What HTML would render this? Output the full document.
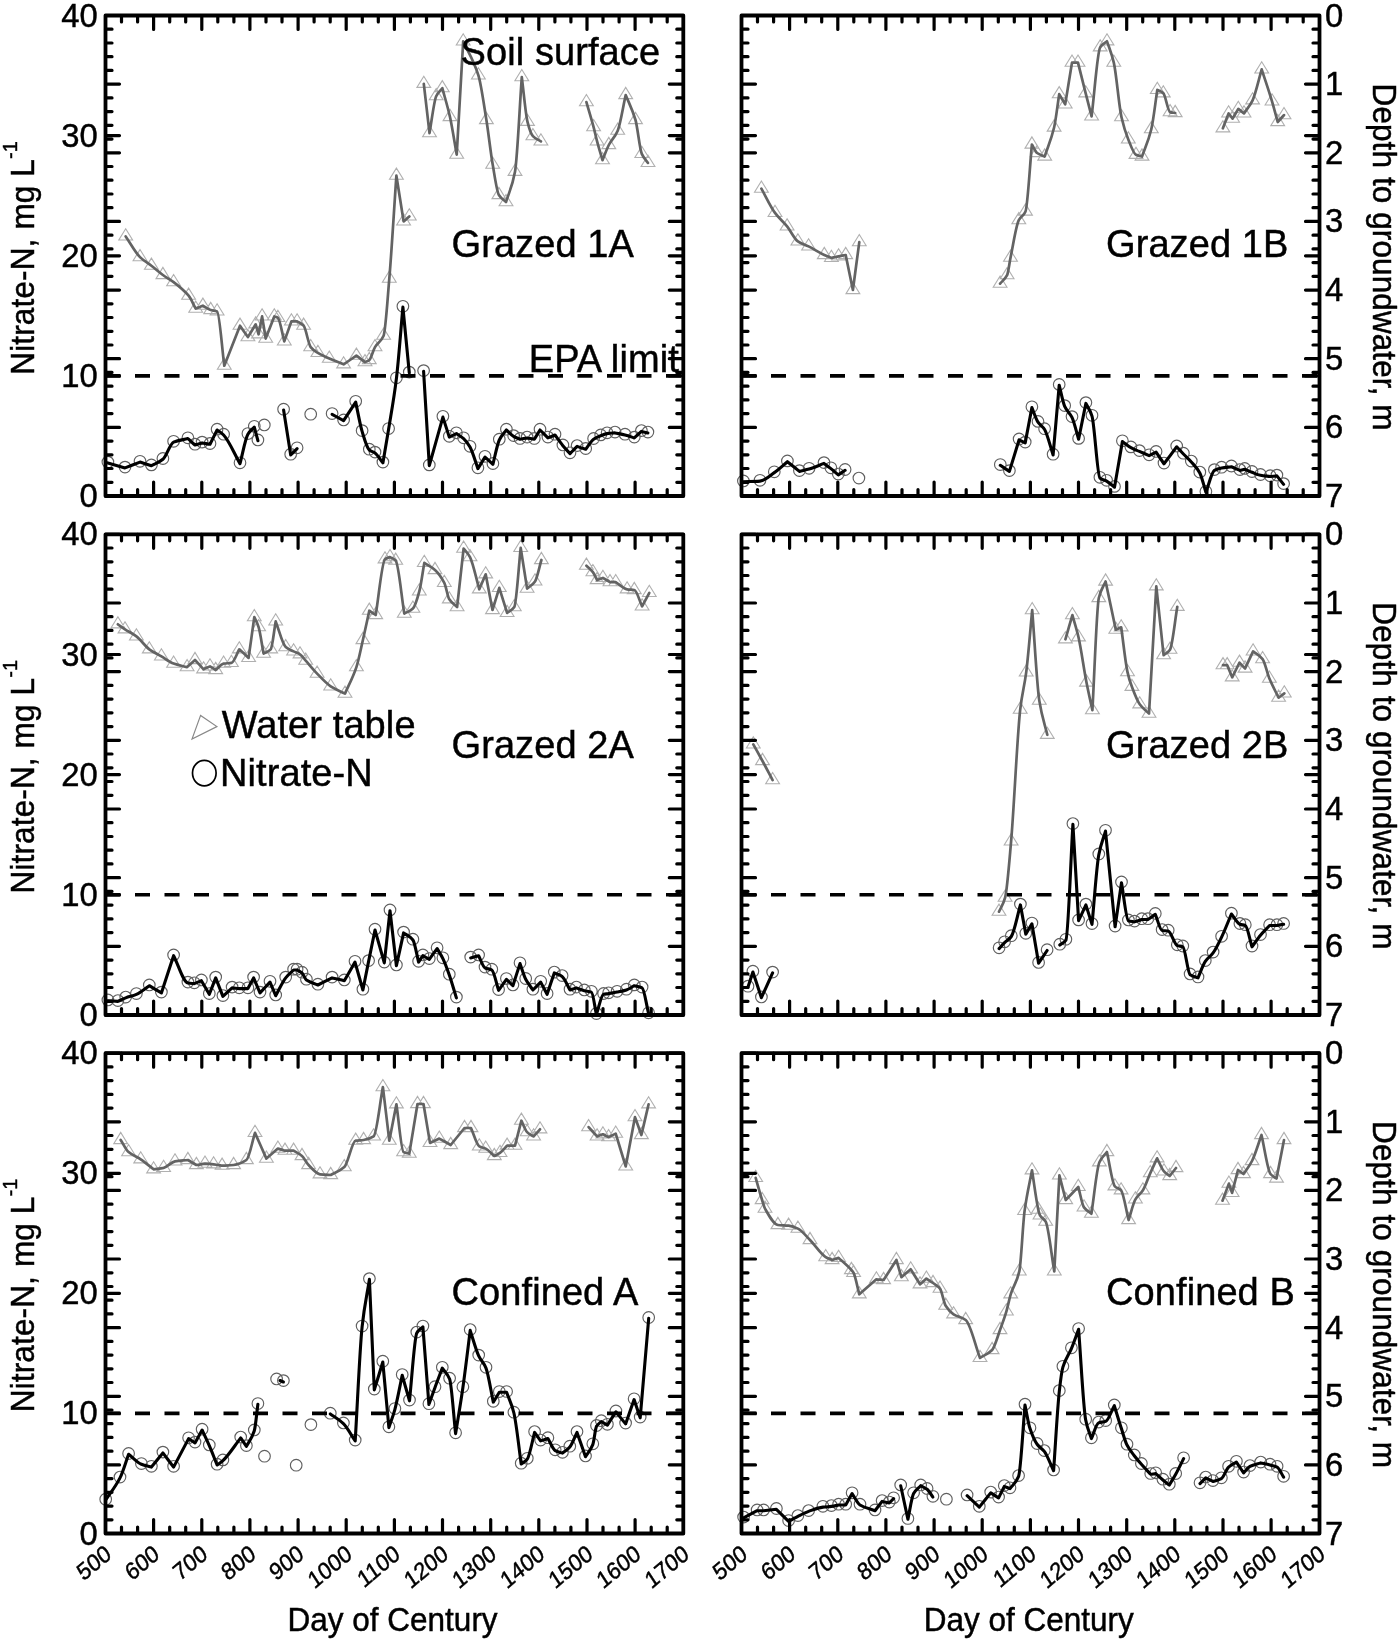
<!DOCTYPE html><html><head><meta charset="utf-8"><style>html,body{margin:0;padding:0;background:#fff;}svg{display:block;filter:blur(0.4px);} text{font-family:"Liberation Sans",sans-serif;fill:#000;stroke:#000;stroke-width:0.45px;}</style></head><body>
<svg width="1400" height="1641" viewBox="0 0 1400 1641">
<rect width="1400" height="1641" fill="#fff"/>
<path d="M125.7 228.8l-6.9 11.2h13.8zM140 249.5l-6.9 11.2h13.8zM151.4 258.1l-6.9 11.2h13.8zM162.9 267.4l-6.9 11.2h13.8zM173.6 274.5l-6.9 11.2h13.8zM188.6 288.1l-6.9 11.2h13.8zM195.7 301l-6.9 11.2h13.8zM202.9 298.1l-6.9 11.2h13.8zM210.7 302.4l-6.9 11.2h13.8zM217.1 303.8l-6.9 11.2h13.8zM224.3 358.1l-6.9 11.2h13.8zM240 318.1l-6.9 11.2h13.8zM247.9 329.5l-6.9 11.2h13.8zM255.7 316.7l-6.9 11.2h13.8zM258.6 326.7l-6.9 11.2h13.8zM262.1 308.8l-6.9 11.2h13.8zM265.7 331l-6.9 11.2h13.8zM274.3 308.8l-6.9 11.2h13.8zM277.9 310.3l-6.9 11.2h13.8zM284.3 333.8l-6.9 11.2h13.8zM291.4 313.8l-6.9 11.2h13.8zM297.1 313.8l-6.9 11.2h13.8zM303.6 318.1l-6.9 11.2h13.8zM310.7 339.5l-6.9 11.2h13.8zM317.9 345.3l-6.9 11.2h13.8zM329.3 351l-6.9 11.2h13.8zM343.6 356.7l-6.9 11.2h13.8zM356.4 348.1l-6.9 11.2h13.8zM365 354.5l-6.9 11.2h13.8zM369.3 352.4l-6.9 11.2h13.8zM375 339.5l-6.9 11.2h13.8zM383.6 328.1l-6.9 11.2h13.8zM389.3 271l-6.9 11.2h13.8zM396.4 168.1l-6.9 11.2h13.8zM403.6 213.8l-6.9 11.2h13.8zM409.3 208.8l-6.9 11.2h13.8z" fill="none" stroke="#b0b0b0" stroke-width="1.1"/>
<path d="M423.8 76.2l-6.9 11.2h13.8zM429.5 125.5l-6.9 11.2h13.8zM436.2 88.6l-6.9 11.2h13.8zM442.3 80.6l-6.9 11.2h13.8zM450 109.4l-6.9 11.2h13.8zM456.7 147l-6.9 11.2h13.8zM463.2 33.8l-6.9 11.2h13.8zM478.4 67.8l-6.9 11.2h13.8zM486.4 112.4l-6.9 11.2h13.8zM492.7 157l-6.9 11.2h13.8zM498.9 187.4l-6.9 11.2h13.8zM506 194.5l-6.9 11.2h13.8zM515 164.2l-6.9 11.2h13.8zM521.8 69.5l-6.9 11.2h13.8zM527.5 114.2l-6.9 11.2h13.8zM532.9 128.5l-6.9 11.2h13.8zM540.9 133.8l-6.9 11.2h13.8z" fill="none" stroke="#b0b0b0" stroke-width="1.1"/>
<path d="M586.4 94.5l-6.9 11.2h13.8zM593.6 119.5l-6.9 11.2h13.8zM597.1 133.8l-6.9 11.2h13.8zM602.5 152.6l-6.9 11.2h13.8zM608.8 137.4l-6.9 11.2h13.8zM617.7 123.1l-6.9 11.2h13.8zM625.7 87.4l-6.9 11.2h13.8zM635.5 112.4l-6.9 11.2h13.8zM641.8 146.3l-6.9 11.2h13.8zM648 155.3l-6.9 11.2h13.8z" fill="none" stroke="#b0b0b0" stroke-width="1.1"/>
<path d="M125.7 236.4C130.5 243.3 135.2 252.4 140 257.1C143.8 260.9 147.6 262.7 151.4 265.7C155.2 268.7 159.1 272.2 162.9 275C166.5 277.6 170 279.4 173.6 282.1C178.6 285.9 183.6 289.7 188.6 295.7C191 298.6 193.3 304.3 195.7 308.6C198.1 307.6 200.5 306.7 202.9 305.7C205.5 307.1 208.1 309.2 210.7 310C212.8 310.7 215 310.5 217.1 311.4C219.5 312.4 221.9 347.6 224.3 365.7C229.5 352.4 234.8 339 240 325.7C242.6 329.5 245.3 333.3 247.9 337.1C250.5 332.8 253.1 328.6 255.7 324.3C256.7 327.6 257.6 331 258.6 334.3C259.8 328.3 260.9 322.4 262.1 316.4C263.3 323.8 264.5 331.2 265.7 338.6C268.6 331.2 271.4 323.8 274.3 316.4C275.5 316.9 276.7 317 277.9 317.9C280 319.5 282.2 333.6 284.3 341.4C286.7 334.7 289 328.1 291.4 321.4C293.3 321.4 295.2 321.4 297.1 321.4C299.3 322.8 301.4 323.3 303.6 325.7C306 328.3 308.3 344.1 310.7 347.1C313.1 350.2 315.5 351.4 317.9 352.9C321.7 355.2 325.5 356.9 329.3 358.6C334.1 360.7 338.8 362.4 343.6 364.3C347.9 361.4 352.1 358.6 356.4 355.7C359.3 357.8 362.1 360 365 362.1C366.4 361.4 367.9 361.2 369.3 360C371.2 358.5 373.1 350.3 375 347.1C377.9 342.3 380.7 342.4 383.6 335.7C385.5 331.3 387.4 301.1 389.3 278.6C391.7 250.6 394 210 396.4 175.7C398.8 190.9 401.2 206.2 403.6 221.4C405.5 219.7 407.4 218.1 409.3 216.4" fill="none" stroke="#636363" stroke-width="2.7" stroke-linejoin="round" stroke-linecap="round"/>
<path d="M423.8 83.8C425.7 100.2 427.6 116.7 429.5 133.1C431.7 120.8 434 100.9 436.2 96.2C438.2 91.9 440.3 90.9 442.3 88.2C444.9 97.8 447.4 105.5 450 117C452.2 127 454.5 142.1 456.7 154.6C458.9 116.9 461 79.1 463.2 41.4C468.3 52.7 473.3 59.2 478.4 75.4C481.1 83.9 483.7 103.4 486.4 120C488.5 133.1 490.6 152.4 492.7 164.6C494.8 176.6 496.8 191.6 498.9 195C501.3 198.9 503.6 199.7 506 202.1C509 192 512 188.1 515 171.8C517.3 159.5 519.5 108.7 521.8 77.1C523.7 92 525.6 114.3 527.5 121.8C529.3 128.9 531.1 134.2 532.9 136.1C535.6 138.9 538.2 139.6 540.9 141.4" fill="none" stroke="#636363" stroke-width="2.7" stroke-linejoin="round" stroke-linecap="round"/>
<path d="M586.4 102.1C588.8 110.4 591.2 118.1 593.6 127.1C594.8 131.5 595.9 137 597.1 141.4C598.9 148.2 600.7 153.9 602.5 160.2C604.6 155.1 606.7 149.1 608.8 145C611.8 139.3 614.7 137.7 617.7 130.7C620.4 124.4 623 106.9 625.7 95C629 103.3 632.2 108.7 635.5 120C637.6 127.3 639.7 149.1 641.8 153.9C643.9 158.6 645.9 159.9 648 162.9" fill="none" stroke="#636363" stroke-width="2.7" stroke-linejoin="round" stroke-linecap="round"/>
<path d="M102.1 462.1a5.8 5.8 0 1 0 11.6 0a5.8 5.8 0 1 0 -11.6 0M119.2 467.1a5.8 5.8 0 1 0 11.6 0a5.8 5.8 0 1 0 -11.6 0M134.2 461.3a5.8 5.8 0 1 0 11.6 0a5.8 5.8 0 1 0 -11.6 0M145.6 464.9a5.8 5.8 0 1 0 11.6 0a5.8 5.8 0 1 0 -11.6 0M157.1 458.5a5.8 5.8 0 1 0 11.6 0a5.8 5.8 0 1 0 -11.6 0M167.8 441.3a5.8 5.8 0 1 0 11.6 0a5.8 5.8 0 1 0 -11.6 0M182.1 437.8a5.8 5.8 0 1 0 11.6 0a5.8 5.8 0 1 0 -11.6 0M189.2 444.2a5.8 5.8 0 1 0 11.6 0a5.8 5.8 0 1 0 -11.6 0M196.3 442.1a5.8 5.8 0 1 0 11.6 0a5.8 5.8 0 1 0 -11.6 0M204.2 443.5a5.8 5.8 0 1 0 11.6 0a5.8 5.8 0 1 0 -11.6 0M211.3 429.2a5.8 5.8 0 1 0 11.6 0a5.8 5.8 0 1 0 -11.6 0M217.8 434.2a5.8 5.8 0 1 0 11.6 0a5.8 5.8 0 1 0 -11.6 0M234.2 462.8a5.8 5.8 0 1 0 11.6 0a5.8 5.8 0 1 0 -11.6 0M242.1 433.5a5.8 5.8 0 1 0 11.6 0a5.8 5.8 0 1 0 -11.6 0M248.5 426.3a5.8 5.8 0 1 0 11.6 0a5.8 5.8 0 1 0 -11.6 0M252.1 439.9a5.8 5.8 0 1 0 11.6 0a5.8 5.8 0 1 0 -11.6 0" fill="none" stroke="#606060" stroke-width="1.15"/>
<path d="M258.5 424.9a5.8 5.8 0 1 0 11.6 0a5.8 5.8 0 1 0 -11.6 0" fill="none" stroke="#606060" stroke-width="1.15"/>
<path d="M277.8 409.2a5.8 5.8 0 1 0 11.6 0a5.8 5.8 0 1 0 -11.6 0M284.9 454.2a5.8 5.8 0 1 0 11.6 0a5.8 5.8 0 1 0 -11.6 0M291.3 447.8a5.8 5.8 0 1 0 11.6 0a5.8 5.8 0 1 0 -11.6 0" fill="none" stroke="#606060" stroke-width="1.15"/>
<path d="M304.9 414.2a5.8 5.8 0 1 0 11.6 0a5.8 5.8 0 1 0 -11.6 0" fill="none" stroke="#606060" stroke-width="1.15"/>
<path d="M326.3 413.5a5.8 5.8 0 1 0 11.6 0a5.8 5.8 0 1 0 -11.6 0M337.8 419.9a5.8 5.8 0 1 0 11.6 0a5.8 5.8 0 1 0 -11.6 0M349.9 401.3a5.8 5.8 0 1 0 11.6 0a5.8 5.8 0 1 0 -11.6 0M356.3 430.6a5.8 5.8 0 1 0 11.6 0a5.8 5.8 0 1 0 -11.6 0M363.5 449.2a5.8 5.8 0 1 0 11.6 0a5.8 5.8 0 1 0 -11.6 0M369.2 452.1a5.8 5.8 0 1 0 11.6 0a5.8 5.8 0 1 0 -11.6 0M377.1 462.1a5.8 5.8 0 1 0 11.6 0a5.8 5.8 0 1 0 -11.6 0M382.8 428.5a5.8 5.8 0 1 0 11.6 0a5.8 5.8 0 1 0 -11.6 0M390.6 377.8a5.8 5.8 0 1 0 11.6 0a5.8 5.8 0 1 0 -11.6 0M397.1 306.3a5.8 5.8 0 1 0 11.6 0a5.8 5.8 0 1 0 -11.6 0M403.5 372.1a5.8 5.8 0 1 0 11.6 0a5.8 5.8 0 1 0 -11.6 0" fill="none" stroke="#606060" stroke-width="1.15"/>
<path d="M417.8 370.6a5.8 5.8 0 1 0 11.6 0a5.8 5.8 0 1 0 -11.6 0M423.5 464.9a5.8 5.8 0 1 0 11.6 0a5.8 5.8 0 1 0 -11.6 0M437.1 416.3a5.8 5.8 0 1 0 11.6 0a5.8 5.8 0 1 0 -11.6 0M443.5 436.3a5.8 5.8 0 1 0 11.6 0a5.8 5.8 0 1 0 -11.6 0M450.6 432.8a5.8 5.8 0 1 0 11.6 0a5.8 5.8 0 1 0 -11.6 0M457.8 437.8a5.8 5.8 0 1 0 11.6 0a5.8 5.8 0 1 0 -11.6 0M464.2 446.3a5.8 5.8 0 1 0 11.6 0a5.8 5.8 0 1 0 -11.6 0M472.1 467.8a5.8 5.8 0 1 0 11.6 0a5.8 5.8 0 1 0 -11.6 0M479.2 456.3a5.8 5.8 0 1 0 11.6 0a5.8 5.8 0 1 0 -11.6 0M487.1 463.5a5.8 5.8 0 1 0 11.6 0a5.8 5.8 0 1 0 -11.6 0M493.5 439.2a5.8 5.8 0 1 0 11.6 0a5.8 5.8 0 1 0 -11.6 0M500.6 429.2a5.8 5.8 0 1 0 11.6 0a5.8 5.8 0 1 0 -11.6 0M507.8 435.6a5.8 5.8 0 1 0 11.6 0a5.8 5.8 0 1 0 -11.6 0M514.2 438.5a5.8 5.8 0 1 0 11.6 0a5.8 5.8 0 1 0 -11.6 0M521.3 437.1a5.8 5.8 0 1 0 11.6 0a5.8 5.8 0 1 0 -11.6 0M528.5 438.5a5.8 5.8 0 1 0 11.6 0a5.8 5.8 0 1 0 -11.6 0M534.2 429.2a5.8 5.8 0 1 0 11.6 0a5.8 5.8 0 1 0 -11.6 0M542.1 437.1a5.8 5.8 0 1 0 11.6 0a5.8 5.8 0 1 0 -11.6 0M549.2 434.2a5.8 5.8 0 1 0 11.6 0a5.8 5.8 0 1 0 -11.6 0M557.1 444.9a5.8 5.8 0 1 0 11.6 0a5.8 5.8 0 1 0 -11.6 0M564.2 452.8a5.8 5.8 0 1 0 11.6 0a5.8 5.8 0 1 0 -11.6 0M571.3 445.6a5.8 5.8 0 1 0 11.6 0a5.8 5.8 0 1 0 -11.6 0M579.9 448.5a5.8 5.8 0 1 0 11.6 0a5.8 5.8 0 1 0 -11.6 0M587.8 438.5a5.8 5.8 0 1 0 11.6 0a5.8 5.8 0 1 0 -11.6 0M594.9 434.9a5.8 5.8 0 1 0 11.6 0a5.8 5.8 0 1 0 -11.6 0M601.3 432.8a5.8 5.8 0 1 0 11.6 0a5.8 5.8 0 1 0 -11.6 0M609.2 432.1a5.8 5.8 0 1 0 11.6 0a5.8 5.8 0 1 0 -11.6 0M619.2 434.2a5.8 5.8 0 1 0 11.6 0a5.8 5.8 0 1 0 -11.6 0M628.5 437.1a5.8 5.8 0 1 0 11.6 0a5.8 5.8 0 1 0 -11.6 0M635.6 430.6a5.8 5.8 0 1 0 11.6 0a5.8 5.8 0 1 0 -11.6 0M642.1 432.1a5.8 5.8 0 1 0 11.6 0a5.8 5.8 0 1 0 -11.6 0" fill="none" stroke="#606060" stroke-width="1.15"/>
<path d="M107.9 462.9C113.6 464.6 119.3 466.2 125 467.9C130 466 135 464 140 462.1C143.8 463.3 147.6 464.5 151.4 465.7C155.2 463.6 159.1 462.5 162.9 459.3C166.5 456.4 170 443.6 173.6 442.1C178.4 440.1 183.1 439.8 187.9 438.6C190.3 440.7 192.6 442.9 195 445C197.4 444.3 199.7 443.6 202.1 442.9C204.7 443.4 207.4 443.8 210 444.3C212.4 439.5 214.7 434.8 217.1 430C219.3 431.7 221.4 432.7 223.6 435C229.1 440.8 234.5 454.1 240 463.6C242.6 453.8 245.3 438.8 247.9 434.3C250 430.6 252.2 429.5 254.3 427.1C255.5 431.6 256.7 436.2 257.9 440.7" fill="none" stroke="#000" stroke-width="3.1" stroke-linejoin="round" stroke-linecap="round"/>
<path d="M283.6 410C286 425 288.3 440 290.7 455C292.8 452.9 295 450.7 297.1 448.6" fill="none" stroke="#000" stroke-width="3.1" stroke-linejoin="round" stroke-linecap="round"/>
<path d="M332.1 414.3C335.9 416.4 339.8 418.6 343.6 420.7C347.6 414.5 351.7 408.3 355.7 402.1C357.8 411.9 360 424.4 362.1 431.4C364.5 439.3 366.9 448 369.3 450C371.2 451.6 373.1 451.5 375 452.9C377.6 454.8 380.3 459.6 382.9 462.9C384.8 451.7 386.7 441 388.6 429.3C391.2 413.2 393.8 399.8 396.4 378.6C398.6 360.9 400.7 330.9 402.9 307.1C405 329 407.2 351 409.3 372.9" fill="none" stroke="#000" stroke-width="3.1" stroke-linejoin="round" stroke-linecap="round"/>
<path d="M423.6 371.4C425.5 402.8 427.4 434.3 429.3 465.7C433.8 449.5 438.4 433.3 442.9 417.1C445 423.8 447.2 430.4 449.3 437.1C451.7 435.9 454 434.8 456.4 433.6C458.8 435.3 461.2 436.4 463.6 438.6C465.7 440.5 467.9 443.3 470 447.1C472.6 451.8 475.3 461.4 477.9 468.6C480.3 464.8 482.6 460.9 485 457.1C487.6 459.5 490.3 461.9 492.9 464.3C495 456.2 497.2 444.4 499.3 440C501.7 435.1 504 433.3 506.4 430C508.8 432.1 511.2 435 513.6 436.4C515.7 437.7 517.9 438.3 520 439.3C522.4 438.8 524.7 438.4 527.1 437.9C529.5 438.4 531.9 438.8 534.3 439.3C536.2 436.2 538.1 433.1 540 430C542.6 432.6 545.3 435.3 547.9 437.9C550.3 436.9 552.6 436 555 435C557.6 438.6 560.3 442.5 562.9 445.7C565.3 448.6 567.6 451 570 453.6C572.4 451.2 574.7 448.8 577.1 446.4C580 447.4 582.8 448.3 585.7 449.3C588.3 446 591 441.2 593.6 439.3C596 437.6 598.3 436.6 600.7 435.7C602.8 434.9 605 433.9 607.1 433.6C609.7 433.2 612.4 433.1 615 432.9C618.3 433.6 621.7 434.2 625 435C628.1 435.8 631.2 436.9 634.3 437.9C636.7 435.7 639 433.6 641.4 431.4C643.6 431.9 645.7 432.4 647.9 432.9" fill="none" stroke="#000" stroke-width="3.1" stroke-linejoin="round" stroke-linecap="round"/>
<path d="M761.4 181l-6.9 11.2h13.8zM775 205.3l-6.9 11.2h13.8zM787.1 218.8l-6.9 11.2h13.8zM797.9 233.8l-6.9 11.2h13.8zM808.6 238.8l-6.9 11.2h13.8zM824.3 247.4l-6.9 11.2h13.8zM831.4 250.3l-6.9 11.2h13.8zM838.6 248.8l-6.9 11.2h13.8zM845.7 247.4l-6.9 11.2h13.8zM852.9 282.4l-6.9 11.2h13.8zM859.3 234.5l-6.9 11.2h13.8z" fill="none" stroke="#b0b0b0" stroke-width="1.1"/>
<path d="M1000.1 276l-6.9 11.2h13.8zM1007.1 267.6l-6.9 11.2h13.8zM1010.5 250.1l-6.9 11.2h13.8zM1018.8 212.6l-6.9 11.2h13.8zM1025.5 203.9l-6.9 11.2h13.8zM1031.9 136.9l-6.9 11.2h13.8zM1037.1 145.4l-6.9 11.2h13.8zM1044.7 148.9l-6.9 11.2h13.8zM1054.1 119.9l-6.9 11.2h13.8zM1059.2 86.6l-6.9 11.2h13.8zM1065.2 96.8l-6.9 11.2h13.8zM1072 55l-6.9 11.2h13.8zM1078 55l-6.9 11.2h13.8zM1085.7 85.7l-6.9 11.2h13.8zM1091.6 108.8l-6.9 11.2h13.8zM1100.2 39.7l-6.9 11.2h13.8zM1107 33.7l-6.9 11.2h13.8zM1113.8 55l-6.9 11.2h13.8zM1121.5 109.6l-6.9 11.2h13.8zM1128.3 131.8l-6.9 11.2h13.8zM1136 147.2l-6.9 11.2h13.8zM1142 148.9l-6.9 11.2h13.8zM1151.3 121.6l-6.9 11.2h13.8zM1157.3 82.3l-6.9 11.2h13.8zM1163.3 85.7l-6.9 11.2h13.8zM1170.1 104.5l-6.9 11.2h13.8zM1175.2 105.4l-6.9 11.2h13.8z" fill="none" stroke="#b0b0b0" stroke-width="1.1"/>
<path d="M1222.9 120.7l-6.9 11.2h13.8zM1228.6 105.8l-6.9 11.2h13.8zM1232.6 111l-6.9 11.2h13.8zM1238.3 101.3l-6.9 11.2h13.8zM1244 105.8l-6.9 11.2h13.8zM1252.6 92.7l-6.9 11.2h13.8zM1261.7 61.8l-6.9 11.2h13.8zM1272 93.8l-6.9 11.2h13.8zM1277.7 114.4l-6.9 11.2h13.8zM1284 107.5l-6.9 11.2h13.8z" fill="none" stroke="#b0b0b0" stroke-width="1.1"/>
<path d="M761.4 188.6C765.9 196.7 770.5 206.7 775 212.9C779 218.4 783.1 221.4 787.1 226.4C790.7 230.9 794.3 238.9 797.9 241.4C801.5 243.9 805 244.6 808.6 246.4C813.8 249 819.1 252.6 824.3 255C826.7 256.1 829 256.9 831.4 257.9C833.8 257.4 836.2 256.9 838.6 256.4C841 255.9 843.3 255.5 845.7 255C848.1 266.7 850.5 278.3 852.9 290C855 274 857.2 258.1 859.3 242.1" fill="none" stroke="#636363" stroke-width="2.7" stroke-linejoin="round" stroke-linecap="round"/>
<path d="M1000.1 283.6C1002.4 280.8 1004.8 279.7 1007.1 275.2C1008.2 273 1009.4 263.2 1010.5 257.7C1013.3 244.4 1016 225.8 1018.8 220.2C1021 215.7 1023.3 216.7 1025.5 211.5C1027.6 206.6 1029.8 166.8 1031.9 144.5C1033.6 147.3 1035.4 151.8 1037.1 153C1039.6 154.8 1042.2 155.3 1044.7 156.5C1047.8 146.8 1051 140.6 1054.1 127.5C1055.8 120.4 1057.5 105.3 1059.2 94.2C1061.2 97.6 1063.2 101 1065.2 104.4C1067.5 90.5 1069.7 76.5 1072 62.6C1074 62.6 1076 62.6 1078 62.6C1080.6 72.8 1083.1 83.2 1085.7 93.3C1087.7 101.1 1089.6 108.7 1091.6 116.4C1094.5 93.4 1097.3 51.9 1100.2 47.3C1102.5 43.7 1104.7 43.3 1107 41.3C1109.3 48.4 1111.5 52.8 1113.8 62.6C1116.4 73.8 1118.9 105.7 1121.5 117.2C1123.8 127.3 1126 133.8 1128.3 139.4C1130.9 145.8 1133.4 153.5 1136 154.8C1138 155.8 1140 155.9 1142 156.5C1145.1 147.4 1148.2 141.8 1151.3 129.2C1153.3 121.1 1155.3 103 1157.3 89.9C1159.3 91 1161.3 91.4 1163.3 93.3C1165.6 95.4 1167.8 111.3 1170.1 112.1C1171.8 112.7 1173.5 112.7 1175.2 113" fill="none" stroke="#636363" stroke-width="2.7" stroke-linejoin="round" stroke-linecap="round"/>
<path d="M1222.9 128.3C1224.8 123.3 1226.7 118.4 1228.6 113.4C1229.9 115.1 1231.3 116.9 1232.6 118.6C1234.5 115.4 1236.4 112.1 1238.3 108.9C1240.2 110.4 1242.1 111.9 1244 113.4C1246.9 109 1249.7 106.3 1252.6 100.3C1255.6 93.9 1258.7 79.7 1261.7 69.4C1265.1 80.1 1268.6 89.9 1272 101.4C1273.9 107.7 1275.8 115.1 1277.7 122C1279.8 119.7 1281.9 117.4 1284 115.1" fill="none" stroke="#636363" stroke-width="2.7" stroke-linejoin="round" stroke-linecap="round"/>
<path d="M737.6 480.9a5.8 5.8 0 1 0 11.6 0a5.8 5.8 0 1 0 -11.6 0M754.2 480.3a5.8 5.8 0 1 0 11.6 0a5.8 5.8 0 1 0 -11.6 0M768.5 471.8a5.8 5.8 0 1 0 11.6 0a5.8 5.8 0 1 0 -11.6 0M781.6 460.9a5.8 5.8 0 1 0 11.6 0a5.8 5.8 0 1 0 -11.6 0M793.6 470.6a5.8 5.8 0 1 0 11.6 0a5.8 5.8 0 1 0 -11.6 0M803.3 468.3a5.8 5.8 0 1 0 11.6 0a5.8 5.8 0 1 0 -11.6 0M818.2 462.6a5.8 5.8 0 1 0 11.6 0a5.8 5.8 0 1 0 -11.6 0M825.1 467.8a5.8 5.8 0 1 0 11.6 0a5.8 5.8 0 1 0 -11.6 0M832.5 474.1a5.8 5.8 0 1 0 11.6 0a5.8 5.8 0 1 0 -11.6 0M839.3 469.5a5.8 5.8 0 1 0 11.6 0a5.8 5.8 0 1 0 -11.6 0" fill="none" stroke="#606060" stroke-width="1.15"/>
<path d="M853.1 478.1a5.8 5.8 0 1 0 11.6 0a5.8 5.8 0 1 0 -11.6 0" fill="none" stroke="#606060" stroke-width="1.15"/>
<path d="M994.5 464.5a5.8 5.8 0 1 0 11.6 0a5.8 5.8 0 1 0 -11.6 0M1003.6 470.6a5.8 5.8 0 1 0 11.6 0a5.8 5.8 0 1 0 -11.6 0M1013.3 439a5.8 5.8 0 1 0 11.6 0a5.8 5.8 0 1 0 -11.6 0M1019.4 442.1a5.8 5.8 0 1 0 11.6 0a5.8 5.8 0 1 0 -11.6 0M1026.1 406.8a5.8 5.8 0 1 0 11.6 0a5.8 5.8 0 1 0 -11.6 0M1032.2 421.4a5.8 5.8 0 1 0 11.6 0a5.8 5.8 0 1 0 -11.6 0M1038.8 428.7a5.8 5.8 0 1 0 11.6 0a5.8 5.8 0 1 0 -11.6 0M1047.3 454.2a5.8 5.8 0 1 0 11.6 0a5.8 5.8 0 1 0 -11.6 0M1053.4 384.4a5.8 5.8 0 1 0 11.6 0a5.8 5.8 0 1 0 -11.6 0M1058.9 405.6a5.8 5.8 0 1 0 11.6 0a5.8 5.8 0 1 0 -11.6 0M1066.2 416.6a5.8 5.8 0 1 0 11.6 0a5.8 5.8 0 1 0 -11.6 0M1072.8 438.4a5.8 5.8 0 1 0 11.6 0a5.8 5.8 0 1 0 -11.6 0M1080.1 402.6a5.8 5.8 0 1 0 11.6 0a5.8 5.8 0 1 0 -11.6 0M1086.2 415.3a5.8 5.8 0 1 0 11.6 0a5.8 5.8 0 1 0 -11.6 0M1094.1 477.3a5.8 5.8 0 1 0 11.6 0a5.8 5.8 0 1 0 -11.6 0M1100.8 480.3a5.8 5.8 0 1 0 11.6 0a5.8 5.8 0 1 0 -11.6 0M1108.7 486.4a5.8 5.8 0 1 0 11.6 0a5.8 5.8 0 1 0 -11.6 0M1116.6 440.8a5.8 5.8 0 1 0 11.6 0a5.8 5.8 0 1 0 -11.6 0M1125.1 446.9a5.8 5.8 0 1 0 11.6 0a5.8 5.8 0 1 0 -11.6 0M1133.6 450.6a5.8 5.8 0 1 0 11.6 0a5.8 5.8 0 1 0 -11.6 0M1143.3 454.8a5.8 5.8 0 1 0 11.6 0a5.8 5.8 0 1 0 -11.6 0M1150.3 451.4a5.8 5.8 0 1 0 11.6 0a5.8 5.8 0 1 0 -11.6 0M1158.2 463a5.8 5.8 0 1 0 11.6 0a5.8 5.8 0 1 0 -11.6 0M1170.9 446a5.8 5.8 0 1 0 11.6 0a5.8 5.8 0 1 0 -11.6 0M1177.6 453.2a5.8 5.8 0 1 0 11.6 0a5.8 5.8 0 1 0 -11.6 0M1185.5 461.1a5.8 5.8 0 1 0 11.6 0a5.8 5.8 0 1 0 -11.6 0M1194 472.1a5.8 5.8 0 1 0 11.6 0a5.8 5.8 0 1 0 -11.6 0M1200.1 491.5a5.8 5.8 0 1 0 11.6 0a5.8 5.8 0 1 0 -11.6 0M1208.6 469.6a5.8 5.8 0 1 0 11.6 0a5.8 5.8 0 1 0 -11.6 0M1215.8 467.2a5.8 5.8 0 1 0 11.6 0a5.8 5.8 0 1 0 -11.6 0M1225.6 466a5.8 5.8 0 1 0 11.6 0a5.8 5.8 0 1 0 -11.6 0M1234.1 469.6a5.8 5.8 0 1 0 11.6 0a5.8 5.8 0 1 0 -11.6 0M1238.9 468.4a5.8 5.8 0 1 0 11.6 0a5.8 5.8 0 1 0 -11.6 0M1246.2 471.5a5.8 5.8 0 1 0 11.6 0a5.8 5.8 0 1 0 -11.6 0M1254.7 474.5a5.8 5.8 0 1 0 11.6 0a5.8 5.8 0 1 0 -11.6 0M1264.4 475.7a5.8 5.8 0 1 0 11.6 0a5.8 5.8 0 1 0 -11.6 0M1271.1 475.1a5.8 5.8 0 1 0 11.6 0a5.8 5.8 0 1 0 -11.6 0M1277.8 483.6a5.8 5.8 0 1 0 11.6 0a5.8 5.8 0 1 0 -11.6 0" fill="none" stroke="#606060" stroke-width="1.15"/>
<path d="M743.4 481.7C748.9 481.5 754.5 481.5 760 481.1C764.8 480.8 769.5 475.9 774.3 472.6C778.7 469.6 783 465.3 787.4 461.7C791.4 464.9 795.4 468.2 799.4 471.4C802.6 470.6 805.9 470 809.1 469.1C814.1 467.6 819 465.3 824 463.4C826.3 465.1 828.6 466.8 830.9 468.6C833.4 470.6 835.8 472.8 838.3 474.9C840.6 473.4 842.8 471.8 845.1 470.3" fill="none" stroke="#000" stroke-width="3.1" stroke-linejoin="round" stroke-linecap="round"/>
<path d="M1000.3 465.3C1003.3 467.3 1006.4 469.4 1009.4 471.4C1012.6 460.9 1015.9 450.3 1019.1 439.8C1021.1 440.8 1023.2 441.9 1025.2 442.9C1027.4 431.1 1029.7 419.4 1031.9 407.6C1033.9 412.5 1036 419.1 1038 422.2C1040.2 425.5 1042.4 425.9 1044.6 429.5C1047.4 434.1 1050.3 446.5 1053.1 455C1055.1 431.7 1057.2 408.5 1059.2 385.2C1061 392.3 1062.9 402.4 1064.7 406.4C1067.1 411.7 1069.6 412.4 1072 417.4C1074.2 422 1076.4 431.9 1078.6 439.2C1081 427.3 1083.5 415.3 1085.9 403.4C1087.9 407.6 1090 409.4 1092 416.1C1094.6 424.8 1097.3 475.9 1099.9 478.1C1102.1 480 1104.4 479.8 1106.6 481.1C1109.2 482.6 1111.9 485.2 1114.5 487.2C1117.1 472 1119.8 456.8 1122.4 441.6C1125.2 443.6 1128.1 446.2 1130.9 447.7C1133.7 449.2 1136.6 450.2 1139.4 451.4C1142.6 452.8 1145.9 454.2 1149.1 455.6C1151.4 454.5 1153.8 453.3 1156.1 452.2C1158.7 456.1 1161.4 459.9 1164 463.8C1168.2 458.1 1172.5 452.5 1176.7 446.8C1178.9 449.2 1181.2 451.7 1183.4 454C1186 456.7 1188.7 458.9 1191.3 461.9C1194.1 465.1 1197 467.7 1199.8 472.9C1201.8 476.6 1203.9 485.8 1205.9 492.3C1208.7 485 1211.6 472.1 1214.4 470.4C1216.8 469 1219.2 468.4 1221.6 468C1224.9 467.4 1228.1 467.2 1231.4 466.8C1234.2 468 1237.1 469.2 1239.9 470.4C1241.5 470 1243.1 469.6 1244.7 469.2C1247.1 470.2 1249.6 471.4 1252 472.3C1254.8 473.4 1257.7 474.8 1260.5 475.3C1263.7 475.9 1267 476.1 1270.2 476.5C1272.4 476.3 1274.7 476.1 1276.9 475.9C1279.1 478.7 1281.4 481.6 1283.6 484.4" fill="none" stroke="#000" stroke-width="3.1" stroke-linejoin="round" stroke-linecap="round"/>
<path d="M117.9 616.7l-6.9 11.2h13.8zM125 621.7l-6.9 11.2h13.8zM136.4 628.8l-6.9 11.2h13.8zM149.3 641.7l-6.9 11.2h13.8zM161.4 648.8l-6.9 11.2h13.8zM173.6 656l-6.9 11.2h13.8zM187.1 659.5l-6.9 11.2h13.8zM195 652.4l-6.9 11.2h13.8zM203.6 661.7l-6.9 11.2h13.8zM210 658.8l-6.9 11.2h13.8zM215.7 662.4l-6.9 11.2h13.8zM223.6 656l-6.9 11.2h13.8zM231.4 655.3l-6.9 11.2h13.8zM239.3 641.7l-6.9 11.2h13.8zM248.6 650.3l-6.9 11.2h13.8zM254.3 609.5l-6.9 11.2h13.8zM258.6 619.5l-6.9 11.2h13.8zM263.6 646l-6.9 11.2h13.8zM270.7 641.7l-6.9 11.2h13.8zM275.7 613.8l-6.9 11.2h13.8zM285.7 639.5l-6.9 11.2h13.8zM293.6 643.8l-6.9 11.2h13.8zM300 646.7l-6.9 11.2h13.8zM305.7 653.1l-6.9 11.2h13.8zM317.1 666l-6.9 11.2h13.8zM330.7 678.8l-6.9 11.2h13.8zM345 686l-6.9 11.2h13.8zM356.4 659.5l-6.9 11.2h13.8zM362.9 632.4l-6.9 11.2h13.8zM369.3 603.1l-6.9 11.2h13.8zM375.7 607.4l-6.9 11.2h13.8zM385 551.7l-6.9 11.2h13.8zM390 549.5l-6.9 11.2h13.8zM395.7 553.1l-6.9 11.2h13.8zM404.3 606l-6.9 11.2h13.8zM412.9 601l-6.9 11.2h13.8zM419.3 583.8l-6.9 11.2h13.8zM424.3 555.3l-6.9 11.2h13.8zM435 562.4l-6.9 11.2h13.8zM444.3 575.3l-6.9 11.2h13.8zM449.3 591.7l-6.9 11.2h13.8zM457.1 599.5l-6.9 11.2h13.8zM463.6 541l-6.9 11.2h13.8zM470 549.5l-6.9 11.2h13.8zM479.3 581.7l-6.9 11.2h13.8zM485.7 566.7l-6.9 11.2h13.8zM492.5 602.4l-6.9 11.2h13.8zM499.3 580.3l-6.9 11.2h13.8zM507.1 605.3l-6.9 11.2h13.8zM514.3 599.5l-6.9 11.2h13.8zM520.7 540.3l-6.9 11.2h13.8zM527.1 581l-6.9 11.2h13.8zM535 573.8l-6.9 11.2h13.8zM541.4 552.4l-6.9 11.2h13.8z" fill="none" stroke="#b0b0b0" stroke-width="1.1"/>
<path d="M586.4 558.1l-6.9 11.2h13.8zM592.9 564.5l-6.9 11.2h13.8zM597.1 572.4l-6.9 11.2h13.8zM602.9 570.3l-6.9 11.2h13.8zM610 574.5l-6.9 11.2h13.8zM615.7 574.5l-6.9 11.2h13.8zM627.1 581.7l-6.9 11.2h13.8zM634.3 582.4l-6.9 11.2h13.8zM642.1 598.8l-6.9 11.2h13.8zM649.3 585.3l-6.9 11.2h13.8z" fill="none" stroke="#b0b0b0" stroke-width="1.1"/>
<path d="M117.9 624.3C120.3 626 122.6 627.7 125 629.3C128.8 631.8 132.6 633.5 136.4 636.4C140.7 639.7 145 646.1 149.3 649.3C153.3 652.3 157.4 654 161.4 656.4C165.5 658.8 169.5 662.1 173.6 663.6C178.1 665.2 182.6 665.9 187.1 667.1C189.7 664.7 192.4 662.4 195 660C197.9 663.1 200.7 666.2 203.6 669.3C205.7 668.3 207.9 667.4 210 666.4C211.9 667.6 213.8 668.8 215.7 670C218.3 667.9 221 664 223.6 663.6C226.2 663.2 228.8 663.3 231.4 662.9C234 662.5 236.7 653.8 239.3 649.3C242.4 652.2 245.5 655 248.6 657.9C250.5 644.3 252.4 630.7 254.3 617.1C255.7 620.4 257.2 622.5 258.6 627.1C260.3 632.5 261.9 644.8 263.6 653.6C266 652.2 268.3 651.9 270.7 649.3C272.4 647.5 274 630.7 275.7 621.4C279 630 282.4 644.1 285.7 647.1C288.3 649.5 291 650.1 293.6 651.4C295.7 652.5 297.9 652.9 300 654.3C301.9 655.5 303.8 658.6 305.7 660.7C309.5 665 313.3 669.7 317.1 673.6C321.6 678.3 326.2 683.4 330.7 686.4C335.5 689.5 340.2 691.2 345 693.6C348.8 684.8 352.6 678.4 356.4 667.1C358.6 660.6 360.7 649.5 362.9 640C365 630.7 367.2 620.5 369.3 610.7C371.4 612.1 373.6 613.6 375.7 615C378.8 596.4 381.9 561.8 385 559.3C386.7 557.9 388.3 557.8 390 557.1C391.9 558.3 393.8 558.5 395.7 560.7C398.6 564 401.4 596 404.3 613.6C407.2 611.9 410 611.3 412.9 608.6C415 606.6 417.2 599.2 419.3 591.4C421 585.3 422.6 572.4 424.3 562.9C427.9 565.3 431.4 566.8 435 570C438.1 572.8 441.2 576.9 444.3 582.9C446 586.1 447.6 596.7 449.3 599.3C451.9 603.3 454.5 604.5 457.1 607.1C459.3 587.6 461.4 568.1 463.6 548.6C465.7 551.4 467.9 553 470 557.1C473.1 563.1 476.2 578.6 479.3 589.3C481.4 584.3 483.6 579.3 485.7 574.3C488 586.2 490.2 598.1 492.5 610C494.8 602.6 497 595.3 499.3 587.9C501.9 596.2 504.5 604.6 507.1 612.9C509.5 611 511.9 610.7 514.3 607.1C516.4 603.9 518.6 567.6 520.7 547.9C522.8 561.5 525 575 527.1 588.6C529.7 586.2 532.4 585.2 535 581.4C537.1 578.3 539.3 567.1 541.4 560" fill="none" stroke="#636363" stroke-width="2.7" stroke-linejoin="round" stroke-linecap="round"/>
<path d="M586.4 565.7C588.6 567.8 590.7 569.3 592.9 572.1C594.3 573.9 595.7 577.4 597.1 580C599 579.3 601 578.6 602.9 577.9C605.3 579.3 607.6 580.7 610 582.1C611.9 582.1 613.8 582.1 615.7 582.1C619.5 584.5 623.3 588.7 627.1 589.3C629.5 589.7 631.9 589.6 634.3 590C636.9 590.5 639.5 600.9 642.1 606.4C644.5 601.9 646.9 597.4 649.3 592.9" fill="none" stroke="#636363" stroke-width="2.7" stroke-linejoin="round" stroke-linecap="round"/>
<path d="M102.1 999.9a5.8 5.8 0 1 0 11.6 0a5.8 5.8 0 1 0 -11.6 0M112.1 1000.6a5.8 5.8 0 1 0 11.6 0a5.8 5.8 0 1 0 -11.6 0M119.9 997.1a5.8 5.8 0 1 0 11.6 0a5.8 5.8 0 1 0 -11.6 0M130.6 993.5a5.8 5.8 0 1 0 11.6 0a5.8 5.8 0 1 0 -11.6 0M143.5 984.9a5.8 5.8 0 1 0 11.6 0a5.8 5.8 0 1 0 -11.6 0M155.6 992.1a5.8 5.8 0 1 0 11.6 0a5.8 5.8 0 1 0 -11.6 0M167.8 954.9a5.8 5.8 0 1 0 11.6 0a5.8 5.8 0 1 0 -11.6 0M182.1 982.1a5.8 5.8 0 1 0 11.6 0a5.8 5.8 0 1 0 -11.6 0M188.5 982.8a5.8 5.8 0 1 0 11.6 0a5.8 5.8 0 1 0 -11.6 0M195.6 979.9a5.8 5.8 0 1 0 11.6 0a5.8 5.8 0 1 0 -11.6 0M203.5 993.5a5.8 5.8 0 1 0 11.6 0a5.8 5.8 0 1 0 -11.6 0M209.9 977.1a5.8 5.8 0 1 0 11.6 0a5.8 5.8 0 1 0 -11.6 0M217.1 995.6a5.8 5.8 0 1 0 11.6 0a5.8 5.8 0 1 0 -11.6 0M226.3 987.1a5.8 5.8 0 1 0 11.6 0a5.8 5.8 0 1 0 -11.6 0M233.5 987.8a5.8 5.8 0 1 0 11.6 0a5.8 5.8 0 1 0 -11.6 0M242.1 987.8a5.8 5.8 0 1 0 11.6 0a5.8 5.8 0 1 0 -11.6 0M247.8 977.1a5.8 5.8 0 1 0 11.6 0a5.8 5.8 0 1 0 -11.6 0M254.2 992.1a5.8 5.8 0 1 0 11.6 0a5.8 5.8 0 1 0 -11.6 0M264.2 981.3a5.8 5.8 0 1 0 11.6 0a5.8 5.8 0 1 0 -11.6 0M269.9 994.9a5.8 5.8 0 1 0 11.6 0a5.8 5.8 0 1 0 -11.6 0M279.9 977.1a5.8 5.8 0 1 0 11.6 0a5.8 5.8 0 1 0 -11.6 0M287.8 969.2a5.8 5.8 0 1 0 11.6 0a5.8 5.8 0 1 0 -11.6 0M291.3 969.2a5.8 5.8 0 1 0 11.6 0a5.8 5.8 0 1 0 -11.6 0M296.2 972.2a5.8 5.8 0 1 0 11.6 0a5.8 5.8 0 1 0 -11.6 0M300.6 979.2a5.8 5.8 0 1 0 11.6 0a5.8 5.8 0 1 0 -11.6 0M312.1 984.2a5.8 5.8 0 1 0 11.6 0a5.8 5.8 0 1 0 -11.6 0M326.3 977.1a5.8 5.8 0 1 0 11.6 0a5.8 5.8 0 1 0 -11.6 0M338.5 979.9a5.8 5.8 0 1 0 11.6 0a5.8 5.8 0 1 0 -11.6 0M349.2 961.3a5.8 5.8 0 1 0 11.6 0a5.8 5.8 0 1 0 -11.6 0M357.1 989.2a5.8 5.8 0 1 0 11.6 0a5.8 5.8 0 1 0 -11.6 0M362.8 960.6a5.8 5.8 0 1 0 11.6 0a5.8 5.8 0 1 0 -11.6 0M369.2 929.2a5.8 5.8 0 1 0 11.6 0a5.8 5.8 0 1 0 -11.6 0M378.5 962.1a5.8 5.8 0 1 0 11.6 0a5.8 5.8 0 1 0 -11.6 0M384.2 909.9a5.8 5.8 0 1 0 11.6 0a5.8 5.8 0 1 0 -11.6 0M390.6 964.9a5.8 5.8 0 1 0 11.6 0a5.8 5.8 0 1 0 -11.6 0M397.8 932.1a5.8 5.8 0 1 0 11.6 0a5.8 5.8 0 1 0 -11.6 0M407.1 939.2a5.8 5.8 0 1 0 11.6 0a5.8 5.8 0 1 0 -11.6 0M412.8 961.3a5.8 5.8 0 1 0 11.6 0a5.8 5.8 0 1 0 -11.6 0M417.1 954.9a5.8 5.8 0 1 0 11.6 0a5.8 5.8 0 1 0 -11.6 0M423.5 958.5a5.8 5.8 0 1 0 11.6 0a5.8 5.8 0 1 0 -11.6 0M431.3 947.8a5.8 5.8 0 1 0 11.6 0a5.8 5.8 0 1 0 -11.6 0M437.1 957.8a5.8 5.8 0 1 0 11.6 0a5.8 5.8 0 1 0 -11.6 0M443.5 974.2a5.8 5.8 0 1 0 11.6 0a5.8 5.8 0 1 0 -11.6 0M450.6 997.1a5.8 5.8 0 1 0 11.6 0a5.8 5.8 0 1 0 -11.6 0" fill="none" stroke="#606060" stroke-width="1.15"/>
<path d="M464.9 957.1a5.8 5.8 0 1 0 11.6 0a5.8 5.8 0 1 0 -11.6 0M472.8 954.9a5.8 5.8 0 1 0 11.6 0a5.8 5.8 0 1 0 -11.6 0M479.2 967.1a5.8 5.8 0 1 0 11.6 0a5.8 5.8 0 1 0 -11.6 0M486 969.2a5.8 5.8 0 1 0 11.6 0a5.8 5.8 0 1 0 -11.6 0M492.8 989.5a5.8 5.8 0 1 0 11.6 0a5.8 5.8 0 1 0 -11.6 0M500.6 978.5a5.8 5.8 0 1 0 11.6 0a5.8 5.8 0 1 0 -11.6 0M507.1 984.9a5.8 5.8 0 1 0 11.6 0a5.8 5.8 0 1 0 -11.6 0M514.2 962.8a5.8 5.8 0 1 0 11.6 0a5.8 5.8 0 1 0 -11.6 0M519.9 978.5a5.8 5.8 0 1 0 11.6 0a5.8 5.8 0 1 0 -11.6 0M527.1 989.2a5.8 5.8 0 1 0 11.6 0a5.8 5.8 0 1 0 -11.6 0M534.9 981.3a5.8 5.8 0 1 0 11.6 0a5.8 5.8 0 1 0 -11.6 0M541.3 993.5a5.8 5.8 0 1 0 11.6 0a5.8 5.8 0 1 0 -11.6 0M548.5 972.1a5.8 5.8 0 1 0 11.6 0a5.8 5.8 0 1 0 -11.6 0M556.3 975.6a5.8 5.8 0 1 0 11.6 0a5.8 5.8 0 1 0 -11.6 0M564.2 989.2a5.8 5.8 0 1 0 11.6 0a5.8 5.8 0 1 0 -11.6 0M570.6 987.1a5.8 5.8 0 1 0 11.6 0a5.8 5.8 0 1 0 -11.6 0M578.5 989.9a5.8 5.8 0 1 0 11.6 0a5.8 5.8 0 1 0 -11.6 0M585.6 991.3a5.8 5.8 0 1 0 11.6 0a5.8 5.8 0 1 0 -11.6 0M590.6 1013.5a5.8 5.8 0 1 0 11.6 0a5.8 5.8 0 1 0 -11.6 0M597.8 993.5a5.8 5.8 0 1 0 11.6 0a5.8 5.8 0 1 0 -11.6 0M602.8 992.8a5.8 5.8 0 1 0 11.6 0a5.8 5.8 0 1 0 -11.6 0M611.3 991.3a5.8 5.8 0 1 0 11.6 0a5.8 5.8 0 1 0 -11.6 0M620.6 989.2a5.8 5.8 0 1 0 11.6 0a5.8 5.8 0 1 0 -11.6 0M628.5 984.9a5.8 5.8 0 1 0 11.6 0a5.8 5.8 0 1 0 -11.6 0M636.3 987.1a5.8 5.8 0 1 0 11.6 0a5.8 5.8 0 1 0 -11.6 0M642.8 1012.8a5.8 5.8 0 1 0 11.6 0a5.8 5.8 0 1 0 -11.6 0" fill="none" stroke="#606060" stroke-width="1.15"/>
<path d="M107.9 1000.7C111.2 1000.9 114.6 1001.2 117.9 1001.4C120.5 1000.2 123.1 998.9 125.7 997.9C129.3 996.5 132.8 995.9 136.4 994.3C140.7 992.4 145 988.6 149.3 985.7C153.3 988.1 157.4 990.5 161.4 992.9C165.5 980.5 169.5 968.1 173.6 955.7C178.4 964.8 183.1 981.9 187.9 982.9C190 983.3 192.2 983.4 194.3 983.6C196.7 982.6 199 981.7 201.4 980.7C204 985.2 206.7 989.8 209.3 994.3C211.4 988.8 213.6 983.4 215.7 977.9C218.1 984.1 220.5 990.2 222.9 996.4C226 993.6 229 990.7 232.1 987.9C234.5 988.1 236.9 988.4 239.3 988.6C242.2 988.6 245 988.6 247.9 988.6C249.8 985 251.7 981.5 253.6 977.9C255.7 982.9 257.9 987.9 260 992.9C263.3 989.3 266.7 985.7 270 982.1C271.9 986.6 273.8 991.2 275.7 995.7C279 989.8 282.4 982.2 285.7 977.9C288.3 974.5 291 972.6 293.6 970C294.8 970 295.9 970 297.1 970C298.7 971 300.4 971.6 302 973C303.5 974.3 304.9 979 306.4 980C310.2 982.6 314.1 983.3 317.9 985C322.6 982.6 327.4 980.3 332.1 977.9C336.2 978.8 340.2 979.8 344.3 980.7C347.9 974.5 351.4 968.3 355 962.1C357.6 971.4 360.3 980.7 362.9 990C364.8 980.5 366.7 970.8 368.6 961.4C370.7 950.8 372.9 940.5 375 930C378.1 941 381.2 951.9 384.3 962.9C386.2 945.5 388.1 928.1 390 910.7C392.1 929 394.3 947.4 396.4 965.7C398.8 954.8 401.2 943.8 403.6 932.9C406.7 935.3 409.8 936 412.9 940C414.8 942.4 416.7 954.7 418.6 962.1C420 960 421.5 957.8 422.9 955.7C425 956.9 427.2 958.1 429.3 959.3C431.9 955.7 434.5 952.2 437.1 948.6C439 951.9 441 954.6 442.9 958.6C445 963 447.2 968.9 449.3 975C451.7 981.8 454 990.3 456.4 997.9" fill="none" stroke="#000" stroke-width="3.1" stroke-linejoin="round" stroke-linecap="round"/>
<path d="M470.7 957.9C473.3 957.2 476 956.4 478.6 955.7C480.7 959.8 482.9 966.8 485 967.9C487.3 969.1 489.5 968.7 491.8 970C494.1 971.3 496.3 983.5 498.6 990.3C501.2 986.6 503.8 983 506.4 979.3C508.6 981.4 510.7 983.6 512.9 985.7C515.3 978.3 517.6 971 520 963.6C521.9 968.8 523.8 975.6 525.7 979.3C528.1 983.9 530.5 986.4 532.9 990C535.5 987.4 538.1 984.7 540.7 982.1C542.8 986.2 545 990.2 547.1 994.3C549.5 987.2 551.9 980 554.3 972.9C556.9 974.1 559.5 974.5 562.1 976.4C564.7 978.3 567.4 985.5 570 990C572.1 989.3 574.3 988.6 576.4 987.9C579 988.8 581.7 990 584.3 990.7C586.7 991.3 589 991.2 591.4 992.1C593.1 992.7 594.7 1006.9 596.4 1014.3C598.8 1007.6 601.2 994.9 603.6 994.3C605.3 993.9 606.9 993.9 608.6 993.6C611.4 993.2 614.3 992.7 617.1 992.1C620.2 991.5 623.3 991 626.4 990C629 989.2 631.7 987.1 634.3 985.7C636.9 986.4 639.5 986.5 642.1 987.9C644.3 989 646.4 1005 648.6 1013.6" fill="none" stroke="#000" stroke-width="3.1" stroke-linejoin="round" stroke-linecap="round"/>
<path d="M753.3 736.8l-6.9 11.2h13.8zM762.5 753.4l-6.9 11.2h13.8zM772.6 772.5l-6.9 11.2h13.8z" fill="none" stroke="#b0b0b0" stroke-width="1.1"/>
<path d="M999 904.1l-6.9 11.2h13.8zM1005.1 890.1l-6.9 11.2h13.8zM1011.1 833.8l-6.9 11.2h13.8zM1020.2 702l-6.9 11.2h13.8zM1026.2 664.8l-6.9 11.2h13.8zM1032.2 602.5l-6.9 11.2h13.8zM1039.3 693l-6.9 11.2h13.8zM1047.3 727.2l-6.9 11.2h13.8z" fill="none" stroke="#b0b0b0" stroke-width="1.1"/>
<path d="M1065.4 631.7l-6.9 11.2h13.8zM1072.4 607.5l-6.9 11.2h13.8zM1078.5 629.7l-6.9 11.2h13.8zM1086.5 674.9l-6.9 11.2h13.8zM1092.4 702.6l-6.9 11.2h13.8zM1098.8 590.4l-6.9 11.2h13.8zM1105.6 573.9l-6.9 11.2h13.8zM1115.8 622.1l-6.9 11.2h13.8zM1121.2 619.7l-6.9 11.2h13.8zM1127.5 664.5l-6.9 11.2h13.8zM1131.9 679.2l-6.9 11.2h13.8zM1139.7 696.7l-6.9 11.2h13.8zM1149 706l-6.9 11.2h13.8zM1156.3 578.7l-6.9 11.2h13.8zM1163.6 647.5l-6.9 11.2h13.8zM1170 642.1l-6.9 11.2h13.8zM1177.3 599.2l-6.9 11.2h13.8z" fill="none" stroke="#b0b0b0" stroke-width="1.1"/>
<path d="M1223 657.6l-6.9 11.2h13.8zM1227.2 657.6l-6.9 11.2h13.8zM1232.2 669.7l-6.9 11.2h13.8zM1239.5 655.1l-6.9 11.2h13.8zM1245.1 660.9l-6.9 11.2h13.8zM1253.1 643.8l-6.9 11.2h13.8zM1262.6 651.5l-6.9 11.2h13.8zM1269.4 671l-6.9 11.2h13.8zM1278.6 690.1l-6.9 11.2h13.8zM1284.3 685.8l-6.9 11.2h13.8z" fill="none" stroke="#b0b0b0" stroke-width="1.1"/>
<path d="M753.3 744.4C756.4 749.9 759.4 755.3 762.5 761C765.9 767.2 769.2 773.7 772.6 780.1" fill="none" stroke="#636363" stroke-width="2.7" stroke-linejoin="round" stroke-linecap="round"/>
<path d="M999 911.7C1001 907 1003.1 905.2 1005.1 897.7C1007.1 890.3 1009.1 864.2 1011.1 841.4C1014.1 806.9 1017.2 735.9 1020.2 709.6C1022.2 692.2 1024.2 687.9 1026.2 672.4C1028.2 656.9 1030.2 630.9 1032.2 610.1C1034.6 640.3 1036.9 685.4 1039.3 700.6C1042 717.7 1044.6 723.4 1047.3 734.8" fill="none" stroke="#636363" stroke-width="2.7" stroke-linejoin="round" stroke-linecap="round"/>
<path d="M1065.4 639.3C1067.7 631.2 1070.1 623.2 1072.4 615.1C1074.4 622.5 1076.5 628.3 1078.5 637.3C1081.2 649.1 1083.8 668.8 1086.5 682.5C1088.5 692.6 1090.4 701 1092.4 710.2C1094.5 672.8 1096.7 607.1 1098.8 598C1101.1 588.3 1103.3 587 1105.6 581.5C1109 597.6 1112.4 613.6 1115.8 629.7C1117.6 628.9 1119.4 628.1 1121.2 627.3C1123.3 642.2 1125.4 662.6 1127.5 672.1C1129 678.8 1130.4 682.9 1131.9 686.8C1134.5 693.8 1137.1 700.7 1139.7 704.3C1142.8 708.6 1145.9 710.5 1149 713.6C1151.4 671.2 1153.9 628.7 1156.3 586.3C1158.7 609.2 1161.2 632.2 1163.6 655.1C1165.7 653.3 1167.9 652.8 1170 649.7C1172.4 646.1 1174.9 621.1 1177.3 606.8" fill="none" stroke="#636363" stroke-width="2.7" stroke-linejoin="round" stroke-linecap="round"/>
<path d="M1223 665.2C1224.4 665.2 1225.8 665.2 1227.2 665.2C1228.9 669.2 1230.5 673.3 1232.2 677.3C1234.6 672.4 1237.1 667.6 1239.5 662.7C1241.4 664.6 1243.2 666.6 1245.1 668.5C1247.8 662.8 1250.4 657.1 1253.1 651.4C1256.3 654 1259.4 655.1 1262.6 659.1C1264.9 662 1267.1 673.1 1269.4 678.6C1272.5 686 1275.5 691.3 1278.6 697.7C1280.5 696.3 1282.4 694.8 1284.3 693.4" fill="none" stroke="#636363" stroke-width="2.7" stroke-linejoin="round" stroke-linecap="round"/>
<path d="M742.2 986.2a5.8 5.8 0 1 0 11.6 0a5.8 5.8 0 1 0 -11.6 0M747.1 971.2a5.8 5.8 0 1 0 11.6 0a5.8 5.8 0 1 0 -11.6 0M755.6 996.9a5.8 5.8 0 1 0 11.6 0a5.8 5.8 0 1 0 -11.6 0M766.8 972.1a5.8 5.8 0 1 0 11.6 0a5.8 5.8 0 1 0 -11.6 0" fill="none" stroke="#606060" stroke-width="1.15"/>
<path d="M993.3 947.8a5.8 5.8 0 1 0 11.6 0a5.8 5.8 0 1 0 -11.6 0M998.8 941.8a5.8 5.8 0 1 0 11.6 0a5.8 5.8 0 1 0 -11.6 0M1005.5 935.7a5.8 5.8 0 1 0 11.6 0a5.8 5.8 0 1 0 -11.6 0M1014.6 904.1a5.8 5.8 0 1 0 11.6 0a5.8 5.8 0 1 0 -11.6 0M1020 933.3a5.8 5.8 0 1 0 11.6 0a5.8 5.8 0 1 0 -11.6 0M1026.1 923a5.8 5.8 0 1 0 11.6 0a5.8 5.8 0 1 0 -11.6 0M1032.8 962.4a5.8 5.8 0 1 0 11.6 0a5.8 5.8 0 1 0 -11.6 0M1041.3 949.7a5.8 5.8 0 1 0 11.6 0a5.8 5.8 0 1 0 -11.6 0" fill="none" stroke="#606060" stroke-width="1.15"/>
<path d="M1054 944.2a5.8 5.8 0 1 0 11.6 0a5.8 5.8 0 1 0 -11.6 0M1060.1 939.3a5.8 5.8 0 1 0 11.6 0a5.8 5.8 0 1 0 -11.6 0M1067.1 823.6a5.8 5.8 0 1 0 11.6 0a5.8 5.8 0 1 0 -11.6 0M1072.8 919.9a5.8 5.8 0 1 0 11.6 0a5.8 5.8 0 1 0 -11.6 0M1080.1 904.1a5.8 5.8 0 1 0 11.6 0a5.8 5.8 0 1 0 -11.6 0M1086.2 923.6a5.8 5.8 0 1 0 11.6 0a5.8 5.8 0 1 0 -11.6 0M1093 854a5.8 5.8 0 1 0 11.6 0a5.8 5.8 0 1 0 -11.6 0M1099.7 830.3a5.8 5.8 0 1 0 11.6 0a5.8 5.8 0 1 0 -11.6 0M1109.3 926a5.8 5.8 0 1 0 11.6 0a5.8 5.8 0 1 0 -11.6 0M1115.7 881.9a5.8 5.8 0 1 0 11.6 0a5.8 5.8 0 1 0 -11.6 0M1122.6 919.9a5.8 5.8 0 1 0 11.6 0a5.8 5.8 0 1 0 -11.6 0M1128.7 921.1a5.8 5.8 0 1 0 11.6 0a5.8 5.8 0 1 0 -11.6 0M1136 918.7a5.8 5.8 0 1 0 11.6 0a5.8 5.8 0 1 0 -11.6 0M1142.1 918.7a5.8 5.8 0 1 0 11.6 0a5.8 5.8 0 1 0 -11.6 0M1149.5 913.5a5.8 5.8 0 1 0 11.6 0a5.8 5.8 0 1 0 -11.6 0M1156.3 929.6a5.8 5.8 0 1 0 11.6 0a5.8 5.8 0 1 0 -11.6 0M1162.4 930.2a5.8 5.8 0 1 0 11.6 0a5.8 5.8 0 1 0 -11.6 0M1171.5 944.8a5.8 5.8 0 1 0 11.6 0a5.8 5.8 0 1 0 -11.6 0M1177 946a5.8 5.8 0 1 0 11.6 0a5.8 5.8 0 1 0 -11.6 0M1184.3 973.9a5.8 5.8 0 1 0 11.6 0a5.8 5.8 0 1 0 -11.6 0M1192.2 977a5.8 5.8 0 1 0 11.6 0a5.8 5.8 0 1 0 -11.6 0M1199.5 960.6a5.8 5.8 0 1 0 11.6 0a5.8 5.8 0 1 0 -11.6 0M1207.3 952.1a5.8 5.8 0 1 0 11.6 0a5.8 5.8 0 1 0 -11.6 0M1215.8 936.3a5.8 5.8 0 1 0 11.6 0a5.8 5.8 0 1 0 -11.6 0M1225.6 913.2a5.8 5.8 0 1 0 11.6 0a5.8 5.8 0 1 0 -11.6 0M1234.1 923.5a5.8 5.8 0 1 0 11.6 0a5.8 5.8 0 1 0 -11.6 0M1239.5 924.7a5.8 5.8 0 1 0 11.6 0a5.8 5.8 0 1 0 -11.6 0M1246.2 946a5.8 5.8 0 1 0 11.6 0a5.8 5.8 0 1 0 -11.6 0M1254.7 934.5a5.8 5.8 0 1 0 11.6 0a5.8 5.8 0 1 0 -11.6 0M1263.8 924.7a5.8 5.8 0 1 0 11.6 0a5.8 5.8 0 1 0 -11.6 0M1271.1 924.7a5.8 5.8 0 1 0 11.6 0a5.8 5.8 0 1 0 -11.6 0M1277.8 923.5a5.8 5.8 0 1 0 11.6 0a5.8 5.8 0 1 0 -11.6 0" fill="none" stroke="#606060" stroke-width="1.15"/>
<path d="M748 987C749.6 982 751.3 977 752.9 972C755.7 980.6 758.6 989.1 761.4 997.7C765.1 989.4 768.9 981.2 772.6 972.9" fill="none" stroke="#000" stroke-width="3.1" stroke-linejoin="round" stroke-linecap="round"/>
<path d="M999.1 948.6C1000.9 946.6 1002.8 944.4 1004.6 942.6C1006.8 940.4 1009.1 939.7 1011.3 936.5C1014.3 932.1 1017.4 915.4 1020.4 904.9C1022.2 914.6 1024 924.4 1025.8 934.1C1027.8 930.7 1029.9 927.2 1031.9 923.8C1034.1 936.9 1036.4 950.1 1038.6 963.2C1041.4 959 1044.3 954.7 1047.1 950.5" fill="none" stroke="#000" stroke-width="3.1" stroke-linejoin="round" stroke-linecap="round"/>
<path d="M1059.8 945C1061.8 943.4 1063.9 943.2 1065.9 940.1C1068.2 936.5 1070.6 863 1072.9 824.4C1074.8 856.5 1076.7 888.6 1078.6 920.7C1081 915.4 1083.5 910.2 1085.9 904.9C1087.9 911.4 1090 917.9 1092 924.4C1094.3 901.2 1096.5 866.7 1098.8 854.8C1101 843.1 1103.3 839 1105.5 831.1C1108.7 863 1111.9 894.9 1115.1 926.8C1117.2 912.1 1119.4 897.4 1121.5 882.7C1123.8 895.4 1126.1 919.8 1128.4 920.7C1130.4 921.5 1132.5 921.5 1134.5 921.9C1136.9 921.1 1139.4 920.3 1141.8 919.5C1143.8 919.5 1145.9 919.5 1147.9 919.5C1150.4 917.8 1152.8 916 1155.3 914.3C1157.6 919.7 1159.8 930 1162.1 930.4C1164.1 930.8 1166.2 930.6 1168.2 931C1171.2 931.6 1174.3 944.4 1177.3 945.6C1179.1 946.3 1181 946 1182.8 946.8C1185.2 947.8 1187.7 973 1190.1 974.7C1192.7 976.6 1195.4 976.8 1198 977.8C1200.4 972.3 1202.9 965 1205.3 961.4C1207.9 957.6 1210.5 956.5 1213.1 952.9C1215.9 949 1218.8 943 1221.6 937.1C1224.9 930.3 1228.1 921.7 1231.4 914C1234.2 917.4 1237.1 923.2 1239.9 924.3C1241.7 925 1243.5 924.8 1245.3 925.5C1247.5 926.4 1249.8 939.7 1252 946.8C1254.8 943 1257.7 938.7 1260.5 935.3C1263.5 931.7 1266.6 928.8 1269.6 925.5C1272 925.5 1274.5 925.5 1276.9 925.5C1279.1 925.1 1281.4 924.7 1283.6 924.3" fill="none" stroke="#000" stroke-width="3.1" stroke-linejoin="round" stroke-linecap="round"/>
<path d="M120.7 1132.4l-6.9 11.2h13.8zM128.6 1144.5l-6.9 11.2h13.8zM140.7 1151.7l-6.9 11.2h13.8zM153.6 1161.7l-6.9 11.2h13.8zM163.6 1160.3l-6.9 11.2h13.8zM175 1153.8l-6.9 11.2h13.8zM187.9 1152.4l-6.9 11.2h13.8zM196.4 1157.4l-6.9 11.2h13.8zM205 1156l-6.9 11.2h13.8zM213.6 1156.7l-6.9 11.2h13.8zM222.1 1158.1l-6.9 11.2h13.8zM233.6 1157.4l-6.9 11.2h13.8zM246.4 1152.4l-6.9 11.2h13.8zM255 1125.3l-6.9 11.2h13.8zM266.4 1151l-6.9 11.2h13.8zM277.9 1141l-6.9 11.2h13.8zM285 1143.1l-6.9 11.2h13.8zM293.6 1143.1l-6.9 11.2h13.8zM302 1148.4l-6.9 11.2h13.8zM308.6 1157.4l-6.9 11.2h13.8zM320 1166.7l-6.9 11.2h13.8zM330.7 1167.4l-6.9 11.2h13.8zM344.3 1159.5l-6.9 11.2h13.8zM355.7 1133.1l-6.9 11.2h13.8zM363.6 1132.4l-6.9 11.2h13.8zM373.6 1128.8l-6.9 11.2h13.8zM382.9 1079.5l-6.9 11.2h13.8zM389.3 1133.1l-6.9 11.2h13.8zM396.4 1096.7l-6.9 11.2h13.8zM403.6 1144.5l-6.9 11.2h13.8zM409.3 1146l-6.9 11.2h13.8zM417.5 1096.4l-6.9 11.2h13.8zM423.5 1096.4l-6.9 11.2h13.8zM430 1135.3l-6.9 11.2h13.8zM439.3 1131l-6.9 11.2h13.8zM450.7 1137.4l-6.9 11.2h13.8zM464.5 1120.4l-6.9 11.2h13.8zM471 1120.4l-6.9 11.2h13.8zM479.3 1138.8l-6.9 11.2h13.8zM485.7 1141l-6.9 11.2h13.8zM494.3 1148.4l-6.9 11.2h13.8zM500 1145.3l-6.9 11.2h13.8zM507.1 1138.1l-6.9 11.2h13.8zM515 1138.1l-6.9 11.2h13.8zM521.4 1113.1l-6.9 11.2h13.8zM527.1 1124.5l-6.9 11.2h13.8zM533.6 1128.8l-6.9 11.2h13.8zM540 1121.7l-6.9 11.2h13.8z" fill="none" stroke="#b0b0b0" stroke-width="1.1"/>
<path d="M588.6 1119.5l-6.9 11.2h13.8zM597.1 1128.8l-6.9 11.2h13.8zM602.9 1126.7l-6.9 11.2h13.8zM608.6 1129.5l-6.9 11.2h13.8zM615.7 1126l-6.9 11.2h13.8zM625.7 1158.8l-6.9 11.2h13.8zM635 1109.5l-6.9 11.2h13.8zM641.4 1127.4l-6.9 11.2h13.8zM648.6 1096.7l-6.9 11.2h13.8z" fill="none" stroke="#b0b0b0" stroke-width="1.1"/>
<path d="M120.7 1140C123.3 1144 126 1149.8 128.6 1152.1C132.6 1155.6 136.7 1156.6 140.7 1159.3C145 1162.2 149.3 1166 153.6 1169.3C156.9 1168.8 160.3 1168.6 163.6 1167.9C167.4 1167 171.2 1162.1 175 1161.4C179.3 1160.6 183.6 1160.5 187.9 1160C190.7 1161.7 193.6 1163.3 196.4 1165C199.3 1164.5 202.1 1164.1 205 1163.6C207.9 1163.8 210.7 1164 213.6 1164.3C216.4 1164.6 219.3 1165.2 222.1 1165.7C225.9 1165.5 229.8 1165.4 233.6 1165C237.9 1164.6 242.1 1163 246.4 1160C249.3 1158 252.1 1141.9 255 1132.9C258.8 1141.5 262.6 1150 266.4 1158.6C270.2 1155.3 274.1 1151.9 277.9 1148.6C280.3 1149.3 282.6 1150 285 1150.7C287.9 1150.7 290.7 1150.7 293.6 1150.7C296.4 1152.5 299.2 1153.6 302 1156C304.2 1157.9 306.4 1162.8 308.6 1165C312.4 1168.9 316.2 1173.8 320 1174.3C323.6 1174.7 327.1 1174.8 330.7 1175C335.2 1172.4 339.8 1171.3 344.3 1167.1C348.1 1163.6 351.9 1141.3 355.7 1140.7C358.3 1140.3 361 1140.4 363.6 1140C366.9 1139.5 370.3 1138.6 373.6 1136.4C376.7 1134.3 379.8 1103.5 382.9 1087.1C385 1105 387.2 1122.8 389.3 1140.7C391.7 1128.6 394 1116.4 396.4 1104.3C398.8 1120.2 401.2 1150.9 403.6 1152.1C405.5 1153.1 407.4 1153.1 409.3 1153.6C412 1137.1 414.8 1120.5 417.5 1104C419.5 1104 421.5 1104 423.5 1104C425.7 1117 427.8 1129.9 430 1142.9C433.1 1141.5 436.2 1140 439.3 1138.6C443.1 1140.7 446.9 1142.9 450.7 1145C455.3 1139.3 459.9 1133.7 464.5 1128C466.7 1128 468.8 1128 471 1128C473.8 1134.1 476.5 1144.8 479.3 1146.4C481.4 1147.7 483.6 1147.6 485.7 1148.6C488.6 1150 491.4 1153.5 494.3 1156C496.2 1155 498.1 1154.2 500 1152.9C502.4 1151.2 504.7 1148.1 507.1 1145.7C509.7 1145.7 512.4 1145.7 515 1145.7C517.1 1137.4 519.3 1129 521.4 1120.7C523.3 1124.5 525.2 1130.2 527.1 1132.1C529.3 1134.3 531.4 1135 533.6 1136.4C535.7 1134 537.9 1131.7 540 1129.3" fill="none" stroke="#636363" stroke-width="2.7" stroke-linejoin="round" stroke-linecap="round"/>
<path d="M588.6 1127.1C591.4 1130.2 594.3 1133.3 597.1 1136.4C599 1135.7 601 1135 602.9 1134.3C604.8 1135.2 606.7 1136.2 608.6 1137.1C611 1135.9 613.3 1134.8 615.7 1133.6C619 1144.5 622.4 1155.5 625.7 1166.4C628.8 1150 631.9 1133.5 635 1117.1C637.1 1123.1 639.3 1129 641.4 1135C643.8 1124.8 646.2 1114.5 648.6 1104.3" fill="none" stroke="#636363" stroke-width="2.7" stroke-linejoin="round" stroke-linecap="round"/>
<path d="M99.9 1499.2a5.8 5.8 0 1 0 11.6 0a5.8 5.8 0 1 0 -11.6 0M114.2 1477.1a5.8 5.8 0 1 0 11.6 0a5.8 5.8 0 1 0 -11.6 0M122.8 1453.5a5.8 5.8 0 1 0 11.6 0a5.8 5.8 0 1 0 -11.6 0M135.6 1463.5a5.8 5.8 0 1 0 11.6 0a5.8 5.8 0 1 0 -11.6 0M145.6 1466.3a5.8 5.8 0 1 0 11.6 0a5.8 5.8 0 1 0 -11.6 0M157.1 1452.1a5.8 5.8 0 1 0 11.6 0a5.8 5.8 0 1 0 -11.6 0M167.8 1466.3a5.8 5.8 0 1 0 11.6 0a5.8 5.8 0 1 0 -11.6 0M182.8 1437.8a5.8 5.8 0 1 0 11.6 0a5.8 5.8 0 1 0 -11.6 0M189.2 1442.1a5.8 5.8 0 1 0 11.6 0a5.8 5.8 0 1 0 -11.6 0M196.3 1429.2a5.8 5.8 0 1 0 11.6 0a5.8 5.8 0 1 0 -11.6 0M203.5 1444.9a5.8 5.8 0 1 0 11.6 0a5.8 5.8 0 1 0 -11.6 0M211.3 1464.2a5.8 5.8 0 1 0 11.6 0a5.8 5.8 0 1 0 -11.6 0M217.1 1459.9a5.8 5.8 0 1 0 11.6 0a5.8 5.8 0 1 0 -11.6 0M234.9 1437.1a5.8 5.8 0 1 0 11.6 0a5.8 5.8 0 1 0 -11.6 0M240.6 1445.6a5.8 5.8 0 1 0 11.6 0a5.8 5.8 0 1 0 -11.6 0M248.5 1429.9a5.8 5.8 0 1 0 11.6 0a5.8 5.8 0 1 0 -11.6 0M252.1 1403.5a5.8 5.8 0 1 0 11.6 0a5.8 5.8 0 1 0 -11.6 0" fill="none" stroke="#606060" stroke-width="1.15"/>
<path d="M258.7 1456.2a5.8 5.8 0 1 0 11.6 0a5.8 5.8 0 1 0 -11.6 0" fill="none" stroke="#606060" stroke-width="1.15"/>
<path d="M270.8 1378.9a5.8 5.8 0 1 0 11.6 0a5.8 5.8 0 1 0 -11.6 0" fill="none" stroke="#606060" stroke-width="1.15"/>
<path d="M290.4 1465.2a5.8 5.8 0 1 0 11.6 0a5.8 5.8 0 1 0 -11.6 0" fill="none" stroke="#606060" stroke-width="1.15"/>
<path d="M277.6 1380.6a5.8 5.8 0 1 0 11.6 0a5.8 5.8 0 1 0 -11.6 0" fill="none" stroke="#606060" stroke-width="1.15"/>
<path d="M305.1 1424.6a5.8 5.8 0 1 0 11.6 0a5.8 5.8 0 1 0 -11.6 0" fill="none" stroke="#606060" stroke-width="1.15"/>
<path d="M324.5 1413.2a5.8 5.8 0 1 0 11.6 0a5.8 5.8 0 1 0 -11.6 0M337.6 1422.9a5.8 5.8 0 1 0 11.6 0a5.8 5.8 0 1 0 -11.6 0M349.4 1440.1a5.8 5.8 0 1 0 11.6 0a5.8 5.8 0 1 0 -11.6 0M356.3 1326a5.8 5.8 0 1 0 11.6 0a5.8 5.8 0 1 0 -11.6 0M363.6 1278.6a5.8 5.8 0 1 0 11.6 0a5.8 5.8 0 1 0 -11.6 0M368.5 1389.1a5.8 5.8 0 1 0 11.6 0a5.8 5.8 0 1 0 -11.6 0M377 1361.2a5.8 5.8 0 1 0 11.6 0a5.8 5.8 0 1 0 -11.6 0M383.1 1426.8a5.8 5.8 0 1 0 11.6 0a5.8 5.8 0 1 0 -11.6 0M389.1 1408.5a5.8 5.8 0 1 0 11.6 0a5.8 5.8 0 1 0 -11.6 0M396.4 1374.5a5.8 5.8 0 1 0 11.6 0a5.8 5.8 0 1 0 -11.6 0M403.7 1400a5.8 5.8 0 1 0 11.6 0a5.8 5.8 0 1 0 -11.6 0M411 1332.1a5.8 5.8 0 1 0 11.6 0a5.8 5.8 0 1 0 -11.6 0M417.1 1326a5.8 5.8 0 1 0 11.6 0a5.8 5.8 0 1 0 -11.6 0M423.1 1403.7a5.8 5.8 0 1 0 11.6 0a5.8 5.8 0 1 0 -11.6 0M429.2 1386.7a5.8 5.8 0 1 0 11.6 0a5.8 5.8 0 1 0 -11.6 0M436.5 1367.3a5.8 5.8 0 1 0 11.6 0a5.8 5.8 0 1 0 -11.6 0M443.8 1378.2a5.8 5.8 0 1 0 11.6 0a5.8 5.8 0 1 0 -11.6 0M449.8 1432.8a5.8 5.8 0 1 0 11.6 0a5.8 5.8 0 1 0 -11.6 0M457.1 1386.7a5.8 5.8 0 1 0 11.6 0a5.8 5.8 0 1 0 -11.6 0M464.4 1329.6a5.8 5.8 0 1 0 11.6 0a5.8 5.8 0 1 0 -11.6 0M472.9 1355.1a5.8 5.8 0 1 0 11.6 0a5.8 5.8 0 1 0 -11.6 0M480.2 1367.3a5.8 5.8 0 1 0 11.6 0a5.8 5.8 0 1 0 -11.6 0M487.5 1401.3a5.8 5.8 0 1 0 11.6 0a5.8 5.8 0 1 0 -11.6 0M493.5 1391.5a5.8 5.8 0 1 0 11.6 0a5.8 5.8 0 1 0 -11.6 0M500.8 1391.5a5.8 5.8 0 1 0 11.6 0a5.8 5.8 0 1 0 -11.6 0M508.1 1412.2a5.8 5.8 0 1 0 11.6 0a5.8 5.8 0 1 0 -11.6 0M515.4 1463.2a5.8 5.8 0 1 0 11.6 0a5.8 5.8 0 1 0 -11.6 0M521.5 1458.3a5.8 5.8 0 1 0 11.6 0a5.8 5.8 0 1 0 -11.6 0M528.8 1431.6a5.8 5.8 0 1 0 11.6 0a5.8 5.8 0 1 0 -11.6 0M534.8 1440.1a5.8 5.8 0 1 0 11.6 0a5.8 5.8 0 1 0 -11.6 0M542.1 1437.7a5.8 5.8 0 1 0 11.6 0a5.8 5.8 0 1 0 -11.6 0M549.4 1449.8a5.8 5.8 0 1 0 11.6 0a5.8 5.8 0 1 0 -11.6 0M556.7 1452.3a5.8 5.8 0 1 0 11.6 0a5.8 5.8 0 1 0 -11.6 0M564 1446.2a5.8 5.8 0 1 0 11.6 0a5.8 5.8 0 1 0 -11.6 0M571.2 1431.6a5.8 5.8 0 1 0 11.6 0a5.8 5.8 0 1 0 -11.6 0M579.7 1455.9a5.8 5.8 0 1 0 11.6 0a5.8 5.8 0 1 0 -11.6 0M587 1443.8a5.8 5.8 0 1 0 11.6 0a5.8 5.8 0 1 0 -11.6 0M590.7 1425.5a5.8 5.8 0 1 0 11.6 0a5.8 5.8 0 1 0 -11.6 0M595.5 1420.7a5.8 5.8 0 1 0 11.6 0a5.8 5.8 0 1 0 -11.6 0M601.6 1424.3a5.8 5.8 0 1 0 11.6 0a5.8 5.8 0 1 0 -11.6 0M610.1 1411a5.8 5.8 0 1 0 11.6 0a5.8 5.8 0 1 0 -11.6 0M619.8 1423.1a5.8 5.8 0 1 0 11.6 0a5.8 5.8 0 1 0 -11.6 0M628.3 1398.8a5.8 5.8 0 1 0 11.6 0a5.8 5.8 0 1 0 -11.6 0M634.4 1417a5.8 5.8 0 1 0 11.6 0a5.8 5.8 0 1 0 -11.6 0M642.9 1317.5a5.8 5.8 0 1 0 11.6 0a5.8 5.8 0 1 0 -11.6 0" fill="none" stroke="#606060" stroke-width="1.15"/>
<path d="M105.7 1500C110.5 1492.6 115.2 1487.3 120 1477.9C122.9 1472.2 125.7 1462.2 128.6 1454.3C132.9 1457.6 137.1 1462.5 141.4 1464.3C144.7 1465.7 148.1 1466.2 151.4 1467.1C155.2 1462.4 159.1 1457.6 162.9 1452.9C166.5 1457.6 170 1462.4 173.6 1467.1C178.6 1457.6 183.6 1448.1 188.6 1438.6C190.7 1440 192.9 1441.5 195 1442.9C197.4 1438.6 199.7 1434.3 202.1 1430C204.5 1435.2 206.9 1440.1 209.3 1445.7C211.9 1451.7 214.5 1458.6 217.1 1465C219 1463.6 221 1462.5 222.9 1460.7C228.8 1455.1 234.8 1445.5 240.7 1437.9C242.6 1440.7 244.5 1443.6 246.4 1446.4C249 1441.2 251.7 1438.9 254.3 1430.7C255.5 1426.9 256.7 1413.1 257.9 1404.3" fill="none" stroke="#000" stroke-width="3.1" stroke-linejoin="round" stroke-linecap="round"/>
<path d="M280 1380.5L283.4 1382" fill="none" stroke="#000" stroke-width="3.1" stroke-linejoin="round" stroke-linecap="round"/>
<path d="M330.3 1414C334.7 1417.2 339 1419.4 343.4 1423.7C347.3 1427.6 351.3 1435.2 355.2 1440.9C357.5 1402.9 359.8 1348.2 362.1 1326.8C364.5 1304.1 367 1295.2 369.4 1279.4C371 1316.2 372.7 1353.1 374.3 1389.9C377.1 1380.6 380 1371.3 382.8 1362C384.8 1383.9 386.9 1405.7 388.9 1427.6C390.9 1421.5 392.9 1416.7 394.9 1409.3C397.3 1400.3 399.8 1386.6 402.2 1375.3C404.6 1383.8 407.1 1392.3 409.5 1400.8C411.9 1378.2 414.4 1337.3 416.8 1332.9C418.8 1329.2 420.9 1328.8 422.9 1326.8C424.9 1352.7 426.9 1378.6 428.9 1404.5C430.9 1398.8 433 1393 435 1387.5C437.4 1380.9 439.9 1374.6 442.3 1368.1C444.7 1371.7 447.2 1372.8 449.6 1379C451.6 1384.1 453.6 1415.4 455.6 1433.6C458 1418.2 460.5 1404.5 462.9 1387.5C465.3 1370.5 467.8 1349.4 470.2 1330.4C473 1338.9 475.9 1349.8 478.7 1355.9C481.1 1361.1 483.6 1362.1 486 1368.1C488.4 1374.1 490.9 1390.8 493.3 1402.1C495.3 1398.8 497.3 1395.6 499.3 1392.3C501.7 1392.3 504.2 1392.3 506.6 1392.3C509 1399.2 511.5 1403.2 513.9 1413C516.3 1422.8 518.8 1447 521.2 1464C523.2 1462.4 525.3 1461.8 527.3 1459.1C529.7 1455.9 532.2 1441.3 534.6 1432.4C536.6 1435.2 538.6 1438.1 540.6 1440.9C543 1440.1 545.5 1439.3 547.9 1438.5C550.3 1442.5 552.8 1449.2 555.2 1450.6C557.6 1452 560.1 1452.3 562.5 1453.1C564.9 1451.1 567.4 1449.9 569.8 1447C572.2 1444.2 574.6 1437.3 577 1432.4C579.8 1440.5 582.7 1448.6 585.5 1456.7C587.9 1452.7 590.4 1450.6 592.8 1444.6C594 1441.5 595.3 1428.4 596.5 1426.3C598.1 1423.6 599.7 1423.1 601.3 1421.5C603.3 1422.7 605.4 1423.9 607.4 1425.1C610.2 1420.7 613.1 1416.2 615.9 1411.8C619.1 1415.8 622.4 1419.9 625.6 1423.9C628.4 1415.8 631.3 1407.7 634.1 1399.6C636.1 1405.7 638.2 1411.7 640.2 1417.8C643 1384.6 645.9 1351.5 648.7 1318.3" fill="none" stroke="#000" stroke-width="3.1" stroke-linejoin="round" stroke-linecap="round"/>
<path d="M755.7 1170.3l-6.9 11.2h13.8zM762.1 1192.4l-6.9 11.2h13.8zM765 1201l-6.9 11.2h13.8zM777.9 1217.4l-6.9 11.2h13.8zM788.6 1218.1l-6.9 11.2h13.8zM797.9 1221l-6.9 11.2h13.8zM810 1232.4l-6.9 11.2h13.8zM825.7 1249.5l-6.9 11.2h13.8zM832.1 1252.4l-6.9 11.2h13.8zM838.6 1250.3l-6.9 11.2h13.8zM851.4 1262.4l-6.9 11.2h13.8zM853.6 1265.3l-6.9 11.2h13.8zM859.3 1286.7l-6.9 11.2h13.8zM876.4 1271.7l-6.9 11.2h13.8zM883.6 1272.4l-6.9 11.2h13.8zM896.4 1252.4l-6.9 11.2h13.8zM901.4 1269.5l-6.9 11.2h13.8zM910.7 1261.7l-6.9 11.2h13.8zM920 1276.7l-6.9 11.2h13.8zM926.4 1271l-6.9 11.2h13.8zM933 1275.4l-6.9 11.2h13.8zM940 1281l-6.9 11.2h13.8zM945.7 1298.1l-6.9 11.2h13.8zM953.6 1306.7l-6.9 11.2h13.8zM965.7 1312.4l-6.9 11.2h13.8zM980 1350.3l-6.9 11.2h13.8zM992.1 1342.4l-6.9 11.2h13.8zM1000 1322.4l-6.9 11.2h13.8zM1006.4 1303.8l-6.9 11.2h13.8zM1010.7 1286.7l-6.9 11.2h13.8zM1019.3 1263.8l-6.9 11.2h13.8zM1024.6 1203.3l-6.9 11.2h13.8zM1032 1162.7l-6.9 11.2h13.8zM1038.3 1202.1l-6.9 11.2h13.8zM1040 1207.8l-6.9 11.2h13.8zM1045.7 1214.1l-6.9 11.2h13.8zM1054.3 1263.8l-6.9 11.2h13.8zM1059.4 1167.8l-6.9 11.2h13.8zM1065.7 1192.4l-6.9 11.2h13.8zM1078.3 1179.3l-6.9 11.2h13.8zM1084 1199.8l-6.9 11.2h13.8zM1091.4 1206.1l-6.9 11.2h13.8zM1099.4 1154.7l-6.9 11.2h13.8zM1106.9 1144.4l-6.9 11.2h13.8zM1114.9 1178.7l-6.9 11.2h13.8zM1121.1 1182.7l-6.9 11.2h13.8zM1128.6 1212.4l-6.9 11.2h13.8zM1135.4 1191.8l-6.9 11.2h13.8zM1142.9 1182.7l-6.9 11.2h13.8zM1150.3 1165.5l-6.9 11.2h13.8zM1157.1 1150.7l-6.9 11.2h13.8zM1164 1163.8l-6.9 11.2h13.8zM1169.7 1168.4l-6.9 11.2h13.8zM1176 1160.4l-6.9 11.2h13.8z" fill="none" stroke="#b0b0b0" stroke-width="1.1"/>
<path d="M1222.5 1193.1l-6.9 11.2h13.8zM1228.9 1176l-6.9 11.2h13.8zM1232.1 1185.3l-6.9 11.2h13.8zM1238 1162.4l-6.9 11.2h13.8zM1243.5 1166.4l-6.9 11.2h13.8zM1252 1153.4l-6.9 11.2h13.8zM1261.5 1127.4l-6.9 11.2h13.8zM1270.5 1166.4l-6.9 11.2h13.8zM1276.5 1170.9l-6.9 11.2h13.8zM1284 1132.4l-6.9 11.2h13.8z" fill="none" stroke="#b0b0b0" stroke-width="1.1"/>
<path d="M755.7 1177.9C757.8 1185.3 760 1193.2 762.1 1200C763.1 1203.1 764 1206.9 765 1208.6C769.3 1216.3 773.6 1224.5 777.9 1225C781.5 1225.4 785 1225.3 788.6 1225.7C791.7 1226 794.8 1227.1 797.9 1228.6C801.9 1230.5 806 1235.9 810 1240C815.2 1245.3 820.5 1253.8 825.7 1257.1C827.8 1258.5 830 1259 832.1 1260C834.3 1259.3 836.4 1258.6 838.6 1257.9C842.9 1261.9 847.1 1265.3 851.4 1270C852.1 1270.8 852.9 1271.5 853.6 1272.9C855.5 1276.6 857.4 1287.2 859.3 1294.3C865 1289.3 870.7 1284.3 876.4 1279.3C878.8 1279.5 881.2 1279.8 883.6 1280C887.9 1273.3 892.1 1266.7 896.4 1260C898.1 1265.7 899.7 1271.4 901.4 1277.1C904.5 1274.5 907.6 1271.9 910.7 1269.3C913.8 1274.3 916.9 1279.3 920 1284.3C922.1 1282.4 924.3 1280.5 926.4 1278.6C928.6 1280.1 930.8 1281.4 933 1283C935.3 1284.7 937.7 1285.7 940 1288.6C941.9 1291 943.8 1302.7 945.7 1305.7C948.3 1309.9 951 1312.6 953.6 1314.3C957.6 1317 961.7 1316.8 965.7 1320C970.5 1323.8 975.2 1345.3 980 1357.9C984 1355.3 988.1 1354.2 992.1 1350C994.7 1347.3 997.4 1337.1 1000 1330C1002.1 1324.2 1004.3 1318.6 1006.4 1311.4C1007.8 1306.6 1009.3 1298.9 1010.7 1294.3C1013.6 1285.2 1016.4 1283.8 1019.3 1271.4C1021.1 1263.8 1022.8 1224 1024.6 1210.9C1027.1 1192.6 1029.5 1183.8 1032 1170.3C1034.1 1183.4 1036.2 1200.5 1038.3 1209.7C1038.9 1212.2 1039.4 1214.5 1040 1215.4C1041.9 1218.6 1043.8 1218.2 1045.7 1221.7C1048.6 1227 1051.4 1254.8 1054.3 1271.4C1056 1239.4 1057.7 1207.4 1059.4 1175.4C1061.5 1183.6 1063.6 1191.8 1065.7 1200C1069.9 1195.6 1074.1 1191.3 1078.3 1186.9C1080.2 1193.7 1082.1 1204.8 1084 1207.4C1086.5 1210.8 1088.9 1211.6 1091.4 1213.7C1094.1 1196.6 1096.7 1168.3 1099.4 1162.3C1101.9 1156.6 1104.4 1155.4 1106.9 1152C1109.6 1163.4 1112.2 1183.3 1114.9 1186.3C1117 1188.6 1119 1188 1121.1 1190.3C1123.6 1193.1 1126.1 1210.1 1128.6 1220C1130.9 1213.1 1133.1 1203.3 1135.4 1199.4C1137.9 1195.1 1140.4 1194.3 1142.9 1190.3C1145.4 1186.4 1147.8 1178.6 1150.3 1173.1C1152.6 1168 1154.8 1163.2 1157.1 1158.3C1159.4 1162.7 1161.7 1168.8 1164 1171.4C1165.9 1173.6 1167.8 1174.5 1169.7 1176C1171.8 1173.3 1173.9 1170.7 1176 1168" fill="none" stroke="#636363" stroke-width="2.7" stroke-linejoin="round" stroke-linecap="round"/>
<path d="M1222.5 1200.7C1224.6 1195 1226.8 1189.3 1228.9 1183.6C1230 1186.7 1231 1189.8 1232.1 1192.9C1234.1 1185.3 1236 1177.6 1238 1170C1239.8 1171.3 1241.7 1172.7 1243.5 1174C1246.3 1169.7 1249.2 1166.6 1252 1161C1255.2 1154.8 1258.3 1143.7 1261.5 1135C1264.5 1148 1267.5 1170.2 1270.5 1174C1272.5 1176.6 1274.5 1177 1276.5 1178.5C1279 1165.7 1281.5 1152.8 1284 1140" fill="none" stroke="#636363" stroke-width="2.7" stroke-linejoin="round" stroke-linecap="round"/>
<path d="M737.8 1517.1a5.8 5.8 0 1 0 11.6 0a5.8 5.8 0 1 0 -11.6 0M751.3 1509.9a5.8 5.8 0 1 0 11.6 0a5.8 5.8 0 1 0 -11.6 0M757.8 1509.9a5.8 5.8 0 1 0 11.6 0a5.8 5.8 0 1 0 -11.6 0M770.6 1508.5a5.8 5.8 0 1 0 11.6 0a5.8 5.8 0 1 0 -11.6 0M782.8 1520.6a5.8 5.8 0 1 0 11.6 0a5.8 5.8 0 1 0 -11.6 0M792.1 1515.6a5.8 5.8 0 1 0 11.6 0a5.8 5.8 0 1 0 -11.6 0M802.8 1510.6a5.8 5.8 0 1 0 11.6 0a5.8 5.8 0 1 0 -11.6 0M817.1 1506.3a5.8 5.8 0 1 0 11.6 0a5.8 5.8 0 1 0 -11.6 0M825.6 1505.6a5.8 5.8 0 1 0 11.6 0a5.8 5.8 0 1 0 -11.6 0M832.8 1504.2a5.8 5.8 0 1 0 11.6 0a5.8 5.8 0 1 0 -11.6 0M839.9 1504.2a5.8 5.8 0 1 0 11.6 0a5.8 5.8 0 1 0 -11.6 0M846.3 1492.8a5.8 5.8 0 1 0 11.6 0a5.8 5.8 0 1 0 -11.6 0M854.2 1504.2a5.8 5.8 0 1 0 11.6 0a5.8 5.8 0 1 0 -11.6 0M869.2 1509.9a5.8 5.8 0 1 0 11.6 0a5.8 5.8 0 1 0 -11.6 0M876.3 1500.6a5.8 5.8 0 1 0 11.6 0a5.8 5.8 0 1 0 -11.6 0M883.5 1502.1a5.8 5.8 0 1 0 11.6 0a5.8 5.8 0 1 0 -11.6 0M887.8 1497.8a5.8 5.8 0 1 0 11.6 0a5.8 5.8 0 1 0 -11.6 0" fill="none" stroke="#606060" stroke-width="1.15"/>
<path d="M894.9 1484.9a5.8 5.8 0 1 0 11.6 0a5.8 5.8 0 1 0 -11.6 0M902.1 1518.5a5.8 5.8 0 1 0 11.6 0a5.8 5.8 0 1 0 -11.6 0M907.8 1492.8a5.8 5.8 0 1 0 11.6 0a5.8 5.8 0 1 0 -11.6 0M914.9 1484.9a5.8 5.8 0 1 0 11.6 0a5.8 5.8 0 1 0 -11.6 0M921.3 1488.5a5.8 5.8 0 1 0 11.6 0a5.8 5.8 0 1 0 -11.6 0M927.1 1496.3a5.8 5.8 0 1 0 11.6 0a5.8 5.8 0 1 0 -11.6 0" fill="none" stroke="#606060" stroke-width="1.15"/>
<path d="M940.6 1499.2a5.8 5.8 0 1 0 11.6 0a5.8 5.8 0 1 0 -11.6 0" fill="none" stroke="#606060" stroke-width="1.15"/>
<path d="M961.3 1494.9a5.8 5.8 0 1 0 11.6 0a5.8 5.8 0 1 0 -11.6 0M973.5 1506.3a5.8 5.8 0 1 0 11.6 0a5.8 5.8 0 1 0 -11.6 0M984.9 1492.1a5.8 5.8 0 1 0 11.6 0a5.8 5.8 0 1 0 -11.6 0M992.8 1497.1a5.8 5.8 0 1 0 11.6 0a5.8 5.8 0 1 0 -11.6 0M998.5 1485.6a5.8 5.8 0 1 0 11.6 0a5.8 5.8 0 1 0 -11.6 0M1004.2 1487.8a5.8 5.8 0 1 0 11.6 0a5.8 5.8 0 1 0 -11.6 0M1012.8 1475.6a5.8 5.8 0 1 0 11.6 0a5.8 5.8 0 1 0 -11.6 0M1019.2 1404.2a5.8 5.8 0 1 0 11.6 0a5.8 5.8 0 1 0 -11.6 0M1024.2 1427.8a5.8 5.8 0 1 0 11.6 0a5.8 5.8 0 1 0 -11.6 0M1031.3 1443.5a5.8 5.8 0 1 0 11.6 0a5.8 5.8 0 1 0 -11.6 0M1038.5 1450.6a5.8 5.8 0 1 0 11.6 0a5.8 5.8 0 1 0 -11.6 0M1047.8 1469.9a5.8 5.8 0 1 0 11.6 0a5.8 5.8 0 1 0 -11.6 0M1053.5 1390.6a5.8 5.8 0 1 0 11.6 0a5.8 5.8 0 1 0 -11.6 0M1057.1 1366.3a5.8 5.8 0 1 0 11.6 0a5.8 5.8 0 1 0 -11.6 0M1065.6 1347.8a5.8 5.8 0 1 0 11.6 0a5.8 5.8 0 1 0 -11.6 0M1072.8 1328.5a5.8 5.8 0 1 0 11.6 0a5.8 5.8 0 1 0 -11.6 0M1079.9 1419.2a5.8 5.8 0 1 0 11.6 0a5.8 5.8 0 1 0 -11.6 0M1085.6 1437.8a5.8 5.8 0 1 0 11.6 0a5.8 5.8 0 1 0 -11.6 0M1092.8 1422.1a5.8 5.8 0 1 0 11.6 0a5.8 5.8 0 1 0 -11.6 0M1099.9 1420.6a5.8 5.8 0 1 0 11.6 0a5.8 5.8 0 1 0 -11.6 0M1108.5 1404.9a5.8 5.8 0 1 0 11.6 0a5.8 5.8 0 1 0 -11.6 0M1115.6 1427.8a5.8 5.8 0 1 0 11.6 0a5.8 5.8 0 1 0 -11.6 0M1121.2 1444.2a5.8 5.8 0 1 0 11.6 0a5.8 5.8 0 1 0 -11.6 0M1128.5 1454.9a5.8 5.8 0 1 0 11.6 0a5.8 5.8 0 1 0 -11.6 0M1135.6 1463.5a5.8 5.8 0 1 0 11.6 0a5.8 5.8 0 1 0 -11.6 0M1144.9 1473.5a5.8 5.8 0 1 0 11.6 0a5.8 5.8 0 1 0 -11.6 0M1149.9 1472.8a5.8 5.8 0 1 0 11.6 0a5.8 5.8 0 1 0 -11.6 0M1157.1 1479.2a5.8 5.8 0 1 0 11.6 0a5.8 5.8 0 1 0 -11.6 0M1163.5 1484.2a5.8 5.8 0 1 0 11.6 0a5.8 5.8 0 1 0 -11.6 0M1169.9 1473.5a5.8 5.8 0 1 0 11.6 0a5.8 5.8 0 1 0 -11.6 0M1177.8 1457.8a5.8 5.8 0 1 0 11.6 0a5.8 5.8 0 1 0 -11.6 0" fill="none" stroke="#606060" stroke-width="1.15"/>
<path d="M1194.2 1482.8a5.8 5.8 0 1 0 11.6 0a5.8 5.8 0 1 0 -11.6 0M1199.9 1477.1a5.8 5.8 0 1 0 11.6 0a5.8 5.8 0 1 0 -11.6 0M1207.1 1480.6a5.8 5.8 0 1 0 11.6 0a5.8 5.8 0 1 0 -11.6 0M1215.6 1477.8a5.8 5.8 0 1 0 11.6 0a5.8 5.8 0 1 0 -11.6 0M1222.8 1466.3a5.8 5.8 0 1 0 11.6 0a5.8 5.8 0 1 0 -11.6 0M1230.6 1461.3a5.8 5.8 0 1 0 11.6 0a5.8 5.8 0 1 0 -11.6 0M1237.8 1472.1a5.8 5.8 0 1 0 11.6 0a5.8 5.8 0 1 0 -11.6 0M1244.2 1465.6a5.8 5.8 0 1 0 11.6 0a5.8 5.8 0 1 0 -11.6 0M1254.9 1462.1a5.8 5.8 0 1 0 11.6 0a5.8 5.8 0 1 0 -11.6 0M1264.2 1464.2a5.8 5.8 0 1 0 11.6 0a5.8 5.8 0 1 0 -11.6 0M1271.3 1466.3a5.8 5.8 0 1 0 11.6 0a5.8 5.8 0 1 0 -11.6 0M1277.8 1476.3a5.8 5.8 0 1 0 11.6 0a5.8 5.8 0 1 0 -11.6 0" fill="none" stroke="#606060" stroke-width="1.15"/>
<path d="M743.6 1517.9C748.1 1515.5 752.6 1513.1 757.1 1510.7C759.3 1510.7 761.4 1510.7 763.6 1510.7C767.9 1510.2 772.1 1509.8 776.4 1509.3C780.5 1513.3 784.5 1517.4 788.6 1521.4C791.7 1519.7 794.8 1518 797.9 1516.4C801.5 1514.6 805 1512.7 808.6 1511.4C813.4 1509.7 818.1 1507.7 822.9 1507.1C825.7 1506.7 828.6 1506.7 831.4 1506.4C833.8 1506.1 836.2 1505.5 838.6 1505C841 1505 843.3 1505 845.7 1505C847.8 1501.2 850 1497.4 852.1 1493.6C854.7 1497.4 857.4 1503.4 860 1505C865 1508 870 1508.8 875 1510.7C877.4 1507.6 879.7 1504.5 882.1 1501.4C884.5 1501.9 886.9 1502.4 889.3 1502.9C890.7 1501.5 892.2 1500 893.6 1498.6" fill="none" stroke="#000" stroke-width="3.1" stroke-linejoin="round" stroke-linecap="round"/>
<path d="M900.7 1485.7C903.1 1496.9 905.5 1508.1 907.9 1519.3C909.8 1510.7 911.7 1497 913.6 1493.6C916 1489.4 918.3 1488.3 920.7 1485.7C922.8 1486.9 925 1487.6 927.1 1489.3C929 1490.8 931 1494.5 932.9 1497.1" fill="none" stroke="#000" stroke-width="3.1" stroke-linejoin="round" stroke-linecap="round"/>
<path d="M967.1 1495.7C971.2 1499.5 975.2 1503.3 979.3 1507.1C983.1 1502.4 986.9 1497.6 990.7 1492.9C993.3 1494.6 996 1496.2 998.6 1497.9C1000.5 1494.1 1002.4 1490.2 1004.3 1486.4C1006.2 1487.1 1008.1 1487.9 1010 1488.6C1012.9 1484.5 1015.7 1483.6 1018.6 1476.4C1020.7 1471 1022.9 1428.8 1025 1405C1026.7 1412.9 1028.3 1423.6 1030 1428.6C1032.4 1435.7 1034.7 1441.1 1037.1 1444.3C1039.5 1447.6 1041.9 1448.2 1044.3 1451.4C1047.4 1455.5 1050.5 1464.3 1053.6 1470.7C1055.5 1444.3 1057.4 1408.7 1059.3 1391.4C1060.5 1380.5 1061.7 1371 1062.9 1367.1C1065.7 1357.8 1068.6 1355.4 1071.4 1348.6C1073.8 1342.8 1076.2 1335.7 1078.6 1329.3C1081 1359.5 1083.3 1407.7 1085.7 1420C1087.6 1429.9 1089.5 1432.4 1091.4 1438.6C1093.8 1433.4 1096.2 1423.8 1098.6 1422.9C1101 1422 1103.3 1422.3 1105.7 1421.4C1108.6 1420.3 1111.4 1410.9 1114.3 1405.7C1116.7 1413.3 1119 1421.3 1121.4 1428.6C1123.3 1434.3 1125.1 1441.4 1127 1445C1129.4 1449.8 1131.9 1452.5 1134.3 1455.7C1136.7 1458.8 1139 1461.6 1141.4 1464.3C1144.5 1467.8 1147.6 1471 1150.7 1474.3C1152.4 1474.1 1154 1473.8 1155.7 1473.6C1158.1 1475.7 1160.5 1478 1162.9 1480C1165 1481.8 1167.2 1483.3 1169.3 1485C1171.4 1481.4 1173.6 1478.2 1175.7 1474.3C1178.3 1469.5 1181 1463.8 1183.6 1458.6" fill="none" stroke="#000" stroke-width="3.1" stroke-linejoin="round" stroke-linecap="round"/>
<path d="M1200 1483.6C1201.9 1481.7 1203.8 1479.8 1205.7 1477.9C1208.1 1479.1 1210.5 1480.2 1212.9 1481.4C1215.7 1480.5 1218.6 1480.1 1221.4 1478.6C1223.8 1477.3 1226.2 1469.3 1228.6 1467.1C1231.2 1464.7 1233.8 1463.8 1236.4 1462.1C1238.8 1465.7 1241.2 1469.3 1243.6 1472.9C1245.7 1470.7 1247.9 1467.5 1250 1466.4C1253.6 1464.6 1257.1 1464.1 1260.7 1462.9C1263.8 1463.6 1266.9 1464.2 1270 1465C1272.4 1465.6 1274.7 1465.9 1277.1 1467.1C1279.3 1468.2 1281.4 1473.8 1283.6 1477.1" fill="none" stroke="#000" stroke-width="3.1" stroke-linejoin="round" stroke-linecap="round"/>
<path d="M121.5 15.5L121.5 22M121.5 496L121.5 489.5M137.6 15.5L137.6 22M137.6 496L137.6 489.5M153.6 15.5L153.6 29.5M153.6 496L153.6 482M169.7 15.5L169.7 22M169.7 496L169.7 489.5M185.7 15.5L185.7 22M185.7 496L185.7 489.5M201.8 15.5L201.8 29.5M201.8 496L201.8 482M217.8 15.5L217.8 22M217.8 496L217.8 489.5M233.9 15.5L233.9 22M233.9 496L233.9 489.5M249.9 15.5L249.9 29.5M249.9 496L249.9 482M266 15.5L266 22M266 496L266 489.5M282 15.5L282 22M282 496L282 489.5M298.1 15.5L298.1 29.5M298.1 496L298.1 482M314.1 15.5L314.1 22M314.1 496L314.1 489.5M330.2 15.5L330.2 22M330.2 496L330.2 489.5M346.2 15.5L346.2 29.5M346.2 496L346.2 482M362.3 15.5L362.3 22M362.3 496L362.3 489.5M378.3 15.5L378.3 22M378.3 496L378.3 489.5M394.4 15.5L394.4 29.5M394.4 496L394.4 482M410.4 15.5L410.4 22M410.4 496L410.4 489.5M426.5 15.5L426.5 22M426.5 496L426.5 489.5M442.5 15.5L442.5 29.5M442.5 496L442.5 482M458.6 15.5L458.6 22M458.6 496L458.6 489.5M474.6 15.5L474.6 22M474.6 496L474.6 489.5M490.7 15.5L490.7 29.5M490.7 496L490.7 482M506.7 15.5L506.7 22M506.7 496L506.7 489.5M522.8 15.5L522.8 22M522.8 496L522.8 489.5M538.8 15.5L538.8 29.5M538.8 496L538.8 482M554.9 15.5L554.9 22M554.9 496L554.9 489.5M570.9 15.5L570.9 22M570.9 496L570.9 489.5M587 15.5L587 29.5M587 496L587 482M603 15.5L603 22M603 496L603 489.5M619.1 15.5L619.1 22M619.1 496L619.1 489.5M635.1 15.5L635.1 29.5M635.1 496L635.1 482M651.2 15.5L651.2 22M651.2 496L651.2 489.5M667.2 15.5L667.2 22M667.2 496L667.2 489.5M105.5 29.2L112 29.2M683.3 29.2L676.8 29.2M105.5 43L112 43M683.3 43L676.8 43M105.5 56.7L112 56.7M683.3 56.7L676.8 56.7M105.5 70.4L112 70.4M683.3 70.4L676.8 70.4M105.5 84.1L119.5 84.1M683.3 84.1L669.3 84.1M105.5 97.9L112 97.9M683.3 97.9L676.8 97.9M105.5 111.6L112 111.6M683.3 111.6L676.8 111.6M105.5 125.3L112 125.3M683.3 125.3L676.8 125.3M105.5 139.1L112 139.1M683.3 139.1L676.8 139.1M105.5 152.8L119.5 152.8M683.3 152.8L669.3 152.8M105.5 166.5L112 166.5M683.3 166.5L676.8 166.5M105.5 180.2L112 180.2M683.3 180.2L676.8 180.2M105.5 194L112 194M683.3 194L676.8 194M105.5 207.7L112 207.7M683.3 207.7L676.8 207.7M105.5 221.4L119.5 221.4M683.3 221.4L669.3 221.4M105.5 235.2L112 235.2M683.3 235.2L676.8 235.2M105.5 248.9L112 248.9M683.3 248.9L676.8 248.9M105.5 262.6L112 262.6M683.3 262.6L676.8 262.6M105.5 276.3L112 276.3M683.3 276.3L676.8 276.3M105.5 290.1L119.5 290.1M683.3 290.1L669.3 290.1M105.5 303.8L112 303.8M683.3 303.8L676.8 303.8M105.5 317.5L112 317.5M683.3 317.5L676.8 317.5M105.5 331.3L112 331.3M683.3 331.3L676.8 331.3M105.5 345L112 345M683.3 345L676.8 345M105.5 358.7L119.5 358.7M683.3 358.7L669.3 358.7M105.5 372.4L112 372.4M683.3 372.4L676.8 372.4M105.5 386.2L112 386.2M683.3 386.2L676.8 386.2M105.5 399.9L112 399.9M683.3 399.9L676.8 399.9M105.5 413.6L112 413.6M683.3 413.6L676.8 413.6M105.5 427.4L119.5 427.4M683.3 427.4L669.3 427.4M105.5 441.1L112 441.1M683.3 441.1L676.8 441.1M105.5 454.8L112 454.8M683.3 454.8L676.8 454.8M105.5 468.5L112 468.5M683.3 468.5L676.8 468.5M105.5 482.3L112 482.3M683.3 482.3L676.8 482.3M105.5 496L119.5 496M683.3 496L669.3 496M105.5 375.9L119.5 375.9M683.3 375.9L669.3 375.9M105.5 255.8L119.5 255.8M683.3 255.8L669.3 255.8M105.5 135.6L119.5 135.6M683.3 135.6L669.3 135.6M105.5 15.5L119.5 15.5M683.3 15.5L669.3 15.5" stroke="#000" stroke-width="3.2" fill="none" stroke-linecap="round"/>
<rect x="105.5" y="15.5" width="577.8" height="480.5" stroke="#000" stroke-width="3.8" fill="none" stroke-linejoin="round"/>
<line x1="105.5" y1="375.9" x2="683.3" y2="375.9" stroke="#000" stroke-width="3.6" stroke-dasharray="15 14.5"/>
<path d="M757.5 15.5L757.5 22M757.5 496L757.5 489.5M773.6 15.5L773.6 22M773.6 496L773.6 489.5M789.6 15.5L789.6 29.5M789.6 496L789.6 482M805.7 15.5L805.7 22M805.7 496L805.7 489.5M821.7 15.5L821.7 22M821.7 496L821.7 489.5M837.8 15.5L837.8 29.5M837.8 496L837.8 482M853.8 15.5L853.8 22M853.8 496L853.8 489.5M869.9 15.5L869.9 22M869.9 496L869.9 489.5M885.9 15.5L885.9 29.5M885.9 496L885.9 482M902 15.5L902 22M902 496L902 489.5M918 15.5L918 22M918 496L918 489.5M934.1 15.5L934.1 29.5M934.1 496L934.1 482M950.1 15.5L950.1 22M950.1 496L950.1 489.5M966.2 15.5L966.2 22M966.2 496L966.2 489.5M982.2 15.5L982.2 29.5M982.2 496L982.2 482M998.3 15.5L998.3 22M998.3 496L998.3 489.5M1014.3 15.5L1014.3 22M1014.3 496L1014.3 489.5M1030.4 15.5L1030.4 29.5M1030.4 496L1030.4 482M1046.4 15.5L1046.4 22M1046.4 496L1046.4 489.5M1062.5 15.5L1062.5 22M1062.5 496L1062.5 489.5M1078.5 15.5L1078.5 29.5M1078.5 496L1078.5 482M1094.6 15.5L1094.6 22M1094.6 496L1094.6 489.5M1110.6 15.5L1110.6 22M1110.6 496L1110.6 489.5M1126.7 15.5L1126.7 29.5M1126.7 496L1126.7 482M1142.7 15.5L1142.7 22M1142.7 496L1142.7 489.5M1158.8 15.5L1158.8 22M1158.8 496L1158.8 489.5M1174.8 15.5L1174.8 29.5M1174.8 496L1174.8 482M1190.9 15.5L1190.9 22M1190.9 496L1190.9 489.5M1206.9 15.5L1206.9 22M1206.9 496L1206.9 489.5M1223 15.5L1223 29.5M1223 496L1223 482M1239 15.5L1239 22M1239 496L1239 489.5M1255.1 15.5L1255.1 22M1255.1 496L1255.1 489.5M1271.1 15.5L1271.1 29.5M1271.1 496L1271.1 482M1287.2 15.5L1287.2 22M1287.2 496L1287.2 489.5M1303.2 15.5L1303.2 22M1303.2 496L1303.2 489.5M741.5 29.2L748 29.2M1319.5 29.2L1313 29.2M741.5 43L748 43M1319.5 43L1313 43M741.5 56.7L748 56.7M1319.5 56.7L1313 56.7M741.5 70.4L748 70.4M1319.5 70.4L1313 70.4M741.5 84.1L755.5 84.1M1319.5 84.1L1305.5 84.1M741.5 97.9L748 97.9M1319.5 97.9L1313 97.9M741.5 111.6L748 111.6M1319.5 111.6L1313 111.6M741.5 125.3L748 125.3M1319.5 125.3L1313 125.3M741.5 139.1L748 139.1M1319.5 139.1L1313 139.1M741.5 152.8L755.5 152.8M1319.5 152.8L1305.5 152.8M741.5 166.5L748 166.5M1319.5 166.5L1313 166.5M741.5 180.2L748 180.2M1319.5 180.2L1313 180.2M741.5 194L748 194M1319.5 194L1313 194M741.5 207.7L748 207.7M1319.5 207.7L1313 207.7M741.5 221.4L755.5 221.4M1319.5 221.4L1305.5 221.4M741.5 235.2L748 235.2M1319.5 235.2L1313 235.2M741.5 248.9L748 248.9M1319.5 248.9L1313 248.9M741.5 262.6L748 262.6M1319.5 262.6L1313 262.6M741.5 276.3L748 276.3M1319.5 276.3L1313 276.3M741.5 290.1L755.5 290.1M1319.5 290.1L1305.5 290.1M741.5 303.8L748 303.8M1319.5 303.8L1313 303.8M741.5 317.5L748 317.5M1319.5 317.5L1313 317.5M741.5 331.3L748 331.3M1319.5 331.3L1313 331.3M741.5 345L748 345M1319.5 345L1313 345M741.5 358.7L755.5 358.7M1319.5 358.7L1305.5 358.7M741.5 372.4L748 372.4M1319.5 372.4L1313 372.4M741.5 386.2L748 386.2M1319.5 386.2L1313 386.2M741.5 399.9L748 399.9M1319.5 399.9L1313 399.9M741.5 413.6L748 413.6M1319.5 413.6L1313 413.6M741.5 427.4L755.5 427.4M1319.5 427.4L1305.5 427.4M741.5 441.1L748 441.1M1319.5 441.1L1313 441.1M741.5 454.8L748 454.8M1319.5 454.8L1313 454.8M741.5 468.5L748 468.5M1319.5 468.5L1313 468.5M741.5 482.3L748 482.3M1319.5 482.3L1313 482.3M741.5 496L755.5 496M1319.5 496L1305.5 496M741.5 375.9L755.5 375.9M1319.5 375.9L1305.5 375.9M741.5 255.8L755.5 255.8M1319.5 255.8L1305.5 255.8M741.5 135.6L755.5 135.6M1319.5 135.6L1305.5 135.6M741.5 15.5L755.5 15.5M1319.5 15.5L1305.5 15.5" stroke="#000" stroke-width="3.2" fill="none" stroke-linecap="round"/>
<rect x="741.5" y="15.5" width="578" height="480.5" stroke="#000" stroke-width="3.8" fill="none" stroke-linejoin="round"/>
<line x1="741.5" y1="375.9" x2="1319.5" y2="375.9" stroke="#000" stroke-width="3.6" stroke-dasharray="15 14.5"/>
<path d="M121.5 534.3L121.5 540.8M121.5 1015L121.5 1008.5M137.6 534.3L137.6 540.8M137.6 1015L137.6 1008.5M153.6 534.3L153.6 548.3M153.6 1015L153.6 1001M169.7 534.3L169.7 540.8M169.7 1015L169.7 1008.5M185.7 534.3L185.7 540.8M185.7 1015L185.7 1008.5M201.8 534.3L201.8 548.3M201.8 1015L201.8 1001M217.8 534.3L217.8 540.8M217.8 1015L217.8 1008.5M233.9 534.3L233.9 540.8M233.9 1015L233.9 1008.5M249.9 534.3L249.9 548.3M249.9 1015L249.9 1001M266 534.3L266 540.8M266 1015L266 1008.5M282 534.3L282 540.8M282 1015L282 1008.5M298.1 534.3L298.1 548.3M298.1 1015L298.1 1001M314.1 534.3L314.1 540.8M314.1 1015L314.1 1008.5M330.2 534.3L330.2 540.8M330.2 1015L330.2 1008.5M346.2 534.3L346.2 548.3M346.2 1015L346.2 1001M362.3 534.3L362.3 540.8M362.3 1015L362.3 1008.5M378.3 534.3L378.3 540.8M378.3 1015L378.3 1008.5M394.4 534.3L394.4 548.3M394.4 1015L394.4 1001M410.4 534.3L410.4 540.8M410.4 1015L410.4 1008.5M426.5 534.3L426.5 540.8M426.5 1015L426.5 1008.5M442.5 534.3L442.5 548.3M442.5 1015L442.5 1001M458.6 534.3L458.6 540.8M458.6 1015L458.6 1008.5M474.6 534.3L474.6 540.8M474.6 1015L474.6 1008.5M490.7 534.3L490.7 548.3M490.7 1015L490.7 1001M506.7 534.3L506.7 540.8M506.7 1015L506.7 1008.5M522.8 534.3L522.8 540.8M522.8 1015L522.8 1008.5M538.8 534.3L538.8 548.3M538.8 1015L538.8 1001M554.9 534.3L554.9 540.8M554.9 1015L554.9 1008.5M570.9 534.3L570.9 540.8M570.9 1015L570.9 1008.5M587 534.3L587 548.3M587 1015L587 1001M603 534.3L603 540.8M603 1015L603 1008.5M619.1 534.3L619.1 540.8M619.1 1015L619.1 1008.5M635.1 534.3L635.1 548.3M635.1 1015L635.1 1001M651.2 534.3L651.2 540.8M651.2 1015L651.2 1008.5M667.2 534.3L667.2 540.8M667.2 1015L667.2 1008.5M105.5 548L112 548M683.3 548L676.8 548M105.5 561.8L112 561.8M683.3 561.8L676.8 561.8M105.5 575.5L112 575.5M683.3 575.5L676.8 575.5M105.5 589.2L112 589.2M683.3 589.2L676.8 589.2M105.5 603L119.5 603M683.3 603L669.3 603M105.5 616.7L112 616.7M683.3 616.7L676.8 616.7M105.5 630.4L112 630.4M683.3 630.4L676.8 630.4M105.5 644.2L112 644.2M683.3 644.2L676.8 644.2M105.5 657.9L112 657.9M683.3 657.9L676.8 657.9M105.5 671.6L119.5 671.6M683.3 671.6L669.3 671.6M105.5 685.4L112 685.4M683.3 685.4L676.8 685.4M105.5 699.1L112 699.1M683.3 699.1L676.8 699.1M105.5 712.8L112 712.8M683.3 712.8L676.8 712.8M105.5 726.6L112 726.6M683.3 726.6L676.8 726.6M105.5 740.3L119.5 740.3M683.3 740.3L669.3 740.3M105.5 754L112 754M683.3 754L676.8 754M105.5 767.8L112 767.8M683.3 767.8L676.8 767.8M105.5 781.5L112 781.5M683.3 781.5L676.8 781.5M105.5 795.3L112 795.3M683.3 795.3L676.8 795.3M105.5 809L119.5 809M683.3 809L669.3 809M105.5 822.7L112 822.7M683.3 822.7L676.8 822.7M105.5 836.5L112 836.5M683.3 836.5L676.8 836.5M105.5 850.2L112 850.2M683.3 850.2L676.8 850.2M105.5 863.9L112 863.9M683.3 863.9L676.8 863.9M105.5 877.7L119.5 877.7M683.3 877.7L669.3 877.7M105.5 891.4L112 891.4M683.3 891.4L676.8 891.4M105.5 905.1L112 905.1M683.3 905.1L676.8 905.1M105.5 918.9L112 918.9M683.3 918.9L676.8 918.9M105.5 932.6L112 932.6M683.3 932.6L676.8 932.6M105.5 946.3L119.5 946.3M683.3 946.3L669.3 946.3M105.5 960.1L112 960.1M683.3 960.1L676.8 960.1M105.5 973.8L112 973.8M683.3 973.8L676.8 973.8M105.5 987.5L112 987.5M683.3 987.5L676.8 987.5M105.5 1001.3L112 1001.3M683.3 1001.3L676.8 1001.3M105.5 1015L119.5 1015M683.3 1015L669.3 1015M105.5 894.8L119.5 894.8M683.3 894.8L669.3 894.8M105.5 774.6L119.5 774.6M683.3 774.6L669.3 774.6M105.5 654.5L119.5 654.5M683.3 654.5L669.3 654.5M105.5 534.3L119.5 534.3M683.3 534.3L669.3 534.3" stroke="#000" stroke-width="3.2" fill="none" stroke-linecap="round"/>
<rect x="105.5" y="534.3" width="577.8" height="480.7" stroke="#000" stroke-width="3.8" fill="none" stroke-linejoin="round"/>
<line x1="105.5" y1="894.8" x2="683.3" y2="894.8" stroke="#000" stroke-width="3.6" stroke-dasharray="15 14.5"/>
<path d="M757.5 534.3L757.5 540.8M757.5 1015L757.5 1008.5M773.6 534.3L773.6 540.8M773.6 1015L773.6 1008.5M789.6 534.3L789.6 548.3M789.6 1015L789.6 1001M805.7 534.3L805.7 540.8M805.7 1015L805.7 1008.5M821.7 534.3L821.7 540.8M821.7 1015L821.7 1008.5M837.8 534.3L837.8 548.3M837.8 1015L837.8 1001M853.8 534.3L853.8 540.8M853.8 1015L853.8 1008.5M869.9 534.3L869.9 540.8M869.9 1015L869.9 1008.5M885.9 534.3L885.9 548.3M885.9 1015L885.9 1001M902 534.3L902 540.8M902 1015L902 1008.5M918 534.3L918 540.8M918 1015L918 1008.5M934.1 534.3L934.1 548.3M934.1 1015L934.1 1001M950.1 534.3L950.1 540.8M950.1 1015L950.1 1008.5M966.2 534.3L966.2 540.8M966.2 1015L966.2 1008.5M982.2 534.3L982.2 548.3M982.2 1015L982.2 1001M998.3 534.3L998.3 540.8M998.3 1015L998.3 1008.5M1014.3 534.3L1014.3 540.8M1014.3 1015L1014.3 1008.5M1030.4 534.3L1030.4 548.3M1030.4 1015L1030.4 1001M1046.4 534.3L1046.4 540.8M1046.4 1015L1046.4 1008.5M1062.5 534.3L1062.5 540.8M1062.5 1015L1062.5 1008.5M1078.5 534.3L1078.5 548.3M1078.5 1015L1078.5 1001M1094.6 534.3L1094.6 540.8M1094.6 1015L1094.6 1008.5M1110.6 534.3L1110.6 540.8M1110.6 1015L1110.6 1008.5M1126.7 534.3L1126.7 548.3M1126.7 1015L1126.7 1001M1142.7 534.3L1142.7 540.8M1142.7 1015L1142.7 1008.5M1158.8 534.3L1158.8 540.8M1158.8 1015L1158.8 1008.5M1174.8 534.3L1174.8 548.3M1174.8 1015L1174.8 1001M1190.9 534.3L1190.9 540.8M1190.9 1015L1190.9 1008.5M1206.9 534.3L1206.9 540.8M1206.9 1015L1206.9 1008.5M1223 534.3L1223 548.3M1223 1015L1223 1001M1239 534.3L1239 540.8M1239 1015L1239 1008.5M1255.1 534.3L1255.1 540.8M1255.1 1015L1255.1 1008.5M1271.1 534.3L1271.1 548.3M1271.1 1015L1271.1 1001M1287.2 534.3L1287.2 540.8M1287.2 1015L1287.2 1008.5M1303.2 534.3L1303.2 540.8M1303.2 1015L1303.2 1008.5M741.5 548L748 548M1319.5 548L1313 548M741.5 561.8L748 561.8M1319.5 561.8L1313 561.8M741.5 575.5L748 575.5M1319.5 575.5L1313 575.5M741.5 589.2L748 589.2M1319.5 589.2L1313 589.2M741.5 603L755.5 603M1319.5 603L1305.5 603M741.5 616.7L748 616.7M1319.5 616.7L1313 616.7M741.5 630.4L748 630.4M1319.5 630.4L1313 630.4M741.5 644.2L748 644.2M1319.5 644.2L1313 644.2M741.5 657.9L748 657.9M1319.5 657.9L1313 657.9M741.5 671.6L755.5 671.6M1319.5 671.6L1305.5 671.6M741.5 685.4L748 685.4M1319.5 685.4L1313 685.4M741.5 699.1L748 699.1M1319.5 699.1L1313 699.1M741.5 712.8L748 712.8M1319.5 712.8L1313 712.8M741.5 726.6L748 726.6M1319.5 726.6L1313 726.6M741.5 740.3L755.5 740.3M1319.5 740.3L1305.5 740.3M741.5 754L748 754M1319.5 754L1313 754M741.5 767.8L748 767.8M1319.5 767.8L1313 767.8M741.5 781.5L748 781.5M1319.5 781.5L1313 781.5M741.5 795.3L748 795.3M1319.5 795.3L1313 795.3M741.5 809L755.5 809M1319.5 809L1305.5 809M741.5 822.7L748 822.7M1319.5 822.7L1313 822.7M741.5 836.5L748 836.5M1319.5 836.5L1313 836.5M741.5 850.2L748 850.2M1319.5 850.2L1313 850.2M741.5 863.9L748 863.9M1319.5 863.9L1313 863.9M741.5 877.7L755.5 877.7M1319.5 877.7L1305.5 877.7M741.5 891.4L748 891.4M1319.5 891.4L1313 891.4M741.5 905.1L748 905.1M1319.5 905.1L1313 905.1M741.5 918.9L748 918.9M1319.5 918.9L1313 918.9M741.5 932.6L748 932.6M1319.5 932.6L1313 932.6M741.5 946.3L755.5 946.3M1319.5 946.3L1305.5 946.3M741.5 960.1L748 960.1M1319.5 960.1L1313 960.1M741.5 973.8L748 973.8M1319.5 973.8L1313 973.8M741.5 987.5L748 987.5M1319.5 987.5L1313 987.5M741.5 1001.3L748 1001.3M1319.5 1001.3L1313 1001.3M741.5 1015L755.5 1015M1319.5 1015L1305.5 1015M741.5 894.8L755.5 894.8M1319.5 894.8L1305.5 894.8M741.5 774.6L755.5 774.6M1319.5 774.6L1305.5 774.6M741.5 654.5L755.5 654.5M1319.5 654.5L1305.5 654.5M741.5 534.3L755.5 534.3M1319.5 534.3L1305.5 534.3" stroke="#000" stroke-width="3.2" fill="none" stroke-linecap="round"/>
<rect x="741.5" y="534.3" width="578" height="480.7" stroke="#000" stroke-width="3.8" fill="none" stroke-linejoin="round"/>
<line x1="741.5" y1="894.8" x2="1319.5" y2="894.8" stroke="#000" stroke-width="3.6" stroke-dasharray="15 14.5"/>
<path d="M121.5 1053.2L121.5 1059.7M121.5 1533.5L121.5 1527M137.6 1053.2L137.6 1059.7M137.6 1533.5L137.6 1527M153.6 1053.2L153.6 1067.2M153.6 1533.5L153.6 1519.5M169.7 1053.2L169.7 1059.7M169.7 1533.5L169.7 1527M185.7 1053.2L185.7 1059.7M185.7 1533.5L185.7 1527M201.8 1053.2L201.8 1067.2M201.8 1533.5L201.8 1519.5M217.8 1053.2L217.8 1059.7M217.8 1533.5L217.8 1527M233.9 1053.2L233.9 1059.7M233.9 1533.5L233.9 1527M249.9 1053.2L249.9 1067.2M249.9 1533.5L249.9 1519.5M266 1053.2L266 1059.7M266 1533.5L266 1527M282 1053.2L282 1059.7M282 1533.5L282 1527M298.1 1053.2L298.1 1067.2M298.1 1533.5L298.1 1519.5M314.1 1053.2L314.1 1059.7M314.1 1533.5L314.1 1527M330.2 1053.2L330.2 1059.7M330.2 1533.5L330.2 1527M346.2 1053.2L346.2 1067.2M346.2 1533.5L346.2 1519.5M362.3 1053.2L362.3 1059.7M362.3 1533.5L362.3 1527M378.3 1053.2L378.3 1059.7M378.3 1533.5L378.3 1527M394.4 1053.2L394.4 1067.2M394.4 1533.5L394.4 1519.5M410.4 1053.2L410.4 1059.7M410.4 1533.5L410.4 1527M426.5 1053.2L426.5 1059.7M426.5 1533.5L426.5 1527M442.5 1053.2L442.5 1067.2M442.5 1533.5L442.5 1519.5M458.6 1053.2L458.6 1059.7M458.6 1533.5L458.6 1527M474.6 1053.2L474.6 1059.7M474.6 1533.5L474.6 1527M490.7 1053.2L490.7 1067.2M490.7 1533.5L490.7 1519.5M506.7 1053.2L506.7 1059.7M506.7 1533.5L506.7 1527M522.8 1053.2L522.8 1059.7M522.8 1533.5L522.8 1527M538.8 1053.2L538.8 1067.2M538.8 1533.5L538.8 1519.5M554.9 1053.2L554.9 1059.7M554.9 1533.5L554.9 1527M570.9 1053.2L570.9 1059.7M570.9 1533.5L570.9 1527M587 1053.2L587 1067.2M587 1533.5L587 1519.5M603 1053.2L603 1059.7M603 1533.5L603 1527M619.1 1053.2L619.1 1059.7M619.1 1533.5L619.1 1527M635.1 1053.2L635.1 1067.2M635.1 1533.5L635.1 1519.5M651.2 1053.2L651.2 1059.7M651.2 1533.5L651.2 1527M667.2 1053.2L667.2 1059.7M667.2 1533.5L667.2 1527M105.5 1066.9L112 1066.9M683.3 1066.9L676.8 1066.9M105.5 1080.6L112 1080.6M683.3 1080.6L676.8 1080.6M105.5 1094.4L112 1094.4M683.3 1094.4L676.8 1094.4M105.5 1108.1L112 1108.1M683.3 1108.1L676.8 1108.1M105.5 1121.8L119.5 1121.8M683.3 1121.8L669.3 1121.8M105.5 1135.5L112 1135.5M683.3 1135.5L676.8 1135.5M105.5 1149.3L112 1149.3M683.3 1149.3L676.8 1149.3M105.5 1163L112 1163M683.3 1163L676.8 1163M105.5 1176.7L112 1176.7M683.3 1176.7L676.8 1176.7M105.5 1190.4L119.5 1190.4M683.3 1190.4L669.3 1190.4M105.5 1204.2L112 1204.2M683.3 1204.2L676.8 1204.2M105.5 1217.9L112 1217.9M683.3 1217.9L676.8 1217.9M105.5 1231.6L112 1231.6M683.3 1231.6L676.8 1231.6M105.5 1245.3L112 1245.3M683.3 1245.3L676.8 1245.3M105.5 1259L119.5 1259M683.3 1259L669.3 1259M105.5 1272.8L112 1272.8M683.3 1272.8L676.8 1272.8M105.5 1286.5L112 1286.5M683.3 1286.5L676.8 1286.5M105.5 1300.2L112 1300.2M683.3 1300.2L676.8 1300.2M105.5 1313.9L112 1313.9M683.3 1313.9L676.8 1313.9M105.5 1327.7L119.5 1327.7M683.3 1327.7L669.3 1327.7M105.5 1341.4L112 1341.4M683.3 1341.4L676.8 1341.4M105.5 1355.1L112 1355.1M683.3 1355.1L676.8 1355.1M105.5 1368.8L112 1368.8M683.3 1368.8L676.8 1368.8M105.5 1382.5L112 1382.5M683.3 1382.5L676.8 1382.5M105.5 1396.3L119.5 1396.3M683.3 1396.3L669.3 1396.3M105.5 1410L112 1410M683.3 1410L676.8 1410M105.5 1423.7L112 1423.7M683.3 1423.7L676.8 1423.7M105.5 1437.4L112 1437.4M683.3 1437.4L676.8 1437.4M105.5 1451.2L112 1451.2M683.3 1451.2L676.8 1451.2M105.5 1464.9L119.5 1464.9M683.3 1464.9L669.3 1464.9M105.5 1478.6L112 1478.6M683.3 1478.6L676.8 1478.6M105.5 1492.3L112 1492.3M683.3 1492.3L676.8 1492.3M105.5 1506.1L112 1506.1M683.3 1506.1L676.8 1506.1M105.5 1519.8L112 1519.8M683.3 1519.8L676.8 1519.8M105.5 1533.5L119.5 1533.5M683.3 1533.5L669.3 1533.5M105.5 1413.4L119.5 1413.4M683.3 1413.4L669.3 1413.4M105.5 1293.3L119.5 1293.3M683.3 1293.3L669.3 1293.3M105.5 1173.3L119.5 1173.3M683.3 1173.3L669.3 1173.3M105.5 1053.2L119.5 1053.2M683.3 1053.2L669.3 1053.2" stroke="#000" stroke-width="3.2" fill="none" stroke-linecap="round"/>
<rect x="105.5" y="1053.2" width="577.8" height="480.3" stroke="#000" stroke-width="3.8" fill="none" stroke-linejoin="round"/>
<line x1="105.5" y1="1413.4" x2="683.3" y2="1413.4" stroke="#000" stroke-width="3.6" stroke-dasharray="15 14.5"/>
<path d="M757.5 1053.2L757.5 1059.7M757.5 1533.5L757.5 1527M773.6 1053.2L773.6 1059.7M773.6 1533.5L773.6 1527M789.6 1053.2L789.6 1067.2M789.6 1533.5L789.6 1519.5M805.7 1053.2L805.7 1059.7M805.7 1533.5L805.7 1527M821.7 1053.2L821.7 1059.7M821.7 1533.5L821.7 1527M837.8 1053.2L837.8 1067.2M837.8 1533.5L837.8 1519.5M853.8 1053.2L853.8 1059.7M853.8 1533.5L853.8 1527M869.9 1053.2L869.9 1059.7M869.9 1533.5L869.9 1527M885.9 1053.2L885.9 1067.2M885.9 1533.5L885.9 1519.5M902 1053.2L902 1059.7M902 1533.5L902 1527M918 1053.2L918 1059.7M918 1533.5L918 1527M934.1 1053.2L934.1 1067.2M934.1 1533.5L934.1 1519.5M950.1 1053.2L950.1 1059.7M950.1 1533.5L950.1 1527M966.2 1053.2L966.2 1059.7M966.2 1533.5L966.2 1527M982.2 1053.2L982.2 1067.2M982.2 1533.5L982.2 1519.5M998.3 1053.2L998.3 1059.7M998.3 1533.5L998.3 1527M1014.3 1053.2L1014.3 1059.7M1014.3 1533.5L1014.3 1527M1030.4 1053.2L1030.4 1067.2M1030.4 1533.5L1030.4 1519.5M1046.4 1053.2L1046.4 1059.7M1046.4 1533.5L1046.4 1527M1062.5 1053.2L1062.5 1059.7M1062.5 1533.5L1062.5 1527M1078.5 1053.2L1078.5 1067.2M1078.5 1533.5L1078.5 1519.5M1094.6 1053.2L1094.6 1059.7M1094.6 1533.5L1094.6 1527M1110.6 1053.2L1110.6 1059.7M1110.6 1533.5L1110.6 1527M1126.7 1053.2L1126.7 1067.2M1126.7 1533.5L1126.7 1519.5M1142.7 1053.2L1142.7 1059.7M1142.7 1533.5L1142.7 1527M1158.8 1053.2L1158.8 1059.7M1158.8 1533.5L1158.8 1527M1174.8 1053.2L1174.8 1067.2M1174.8 1533.5L1174.8 1519.5M1190.9 1053.2L1190.9 1059.7M1190.9 1533.5L1190.9 1527M1206.9 1053.2L1206.9 1059.7M1206.9 1533.5L1206.9 1527M1223 1053.2L1223 1067.2M1223 1533.5L1223 1519.5M1239 1053.2L1239 1059.7M1239 1533.5L1239 1527M1255.1 1053.2L1255.1 1059.7M1255.1 1533.5L1255.1 1527M1271.1 1053.2L1271.1 1067.2M1271.1 1533.5L1271.1 1519.5M1287.2 1053.2L1287.2 1059.7M1287.2 1533.5L1287.2 1527M1303.2 1053.2L1303.2 1059.7M1303.2 1533.5L1303.2 1527M741.5 1066.9L748 1066.9M1319.5 1066.9L1313 1066.9M741.5 1080.6L748 1080.6M1319.5 1080.6L1313 1080.6M741.5 1094.4L748 1094.4M1319.5 1094.4L1313 1094.4M741.5 1108.1L748 1108.1M1319.5 1108.1L1313 1108.1M741.5 1121.8L755.5 1121.8M1319.5 1121.8L1305.5 1121.8M741.5 1135.5L748 1135.5M1319.5 1135.5L1313 1135.5M741.5 1149.3L748 1149.3M1319.5 1149.3L1313 1149.3M741.5 1163L748 1163M1319.5 1163L1313 1163M741.5 1176.7L748 1176.7M1319.5 1176.7L1313 1176.7M741.5 1190.4L755.5 1190.4M1319.5 1190.4L1305.5 1190.4M741.5 1204.2L748 1204.2M1319.5 1204.2L1313 1204.2M741.5 1217.9L748 1217.9M1319.5 1217.9L1313 1217.9M741.5 1231.6L748 1231.6M1319.5 1231.6L1313 1231.6M741.5 1245.3L748 1245.3M1319.5 1245.3L1313 1245.3M741.5 1259L755.5 1259M1319.5 1259L1305.5 1259M741.5 1272.8L748 1272.8M1319.5 1272.8L1313 1272.8M741.5 1286.5L748 1286.5M1319.5 1286.5L1313 1286.5M741.5 1300.2L748 1300.2M1319.5 1300.2L1313 1300.2M741.5 1313.9L748 1313.9M1319.5 1313.9L1313 1313.9M741.5 1327.7L755.5 1327.7M1319.5 1327.7L1305.5 1327.7M741.5 1341.4L748 1341.4M1319.5 1341.4L1313 1341.4M741.5 1355.1L748 1355.1M1319.5 1355.1L1313 1355.1M741.5 1368.8L748 1368.8M1319.5 1368.8L1313 1368.8M741.5 1382.5L748 1382.5M1319.5 1382.5L1313 1382.5M741.5 1396.3L755.5 1396.3M1319.5 1396.3L1305.5 1396.3M741.5 1410L748 1410M1319.5 1410L1313 1410M741.5 1423.7L748 1423.7M1319.5 1423.7L1313 1423.7M741.5 1437.4L748 1437.4M1319.5 1437.4L1313 1437.4M741.5 1451.2L748 1451.2M1319.5 1451.2L1313 1451.2M741.5 1464.9L755.5 1464.9M1319.5 1464.9L1305.5 1464.9M741.5 1478.6L748 1478.6M1319.5 1478.6L1313 1478.6M741.5 1492.3L748 1492.3M1319.5 1492.3L1313 1492.3M741.5 1506.1L748 1506.1M1319.5 1506.1L1313 1506.1M741.5 1519.8L748 1519.8M1319.5 1519.8L1313 1519.8M741.5 1533.5L755.5 1533.5M1319.5 1533.5L1305.5 1533.5M741.5 1413.4L755.5 1413.4M1319.5 1413.4L1305.5 1413.4M741.5 1293.3L755.5 1293.3M1319.5 1293.3L1305.5 1293.3M741.5 1173.3L755.5 1173.3M1319.5 1173.3L1305.5 1173.3M741.5 1053.2L755.5 1053.2M1319.5 1053.2L1305.5 1053.2" stroke="#000" stroke-width="3.2" fill="none" stroke-linecap="round"/>
<rect x="741.5" y="1053.2" width="578" height="480.3" stroke="#000" stroke-width="3.8" fill="none" stroke-linejoin="round"/>
<line x1="741.5" y1="1413.4" x2="1319.5" y2="1413.4" stroke="#000" stroke-width="3.6" stroke-dasharray="15 14.5"/>
<text transform="translate(97.8 507) scale(1 1.04)" text-anchor="end" font-size="32.8">0</text>
<text transform="translate(97.8 386.9) scale(1 1.04)" text-anchor="end" font-size="32.8">10</text>
<text transform="translate(97.8 266.8) scale(1 1.04)" text-anchor="end" font-size="32.8">20</text>
<text transform="translate(97.8 146.6) scale(1 1.04)" text-anchor="end" font-size="32.8">30</text>
<text transform="translate(97.8 26.5) scale(1 1.04)" text-anchor="end" font-size="32.8">40</text>
<text transform="translate(1325 26.5) scale(1 1.04)" font-size="32.8">0</text>
<text transform="translate(1325 95.1) scale(1 1.04)" font-size="32.8">1</text>
<text transform="translate(1325 163.8) scale(1 1.04)" font-size="32.8">2</text>
<text transform="translate(1325 232.4) scale(1 1.04)" font-size="32.8">3</text>
<text transform="translate(1325 301.1) scale(1 1.04)" font-size="32.8">4</text>
<text transform="translate(1325 369.7) scale(1 1.04)" font-size="32.8">5</text>
<text transform="translate(1325 438.4) scale(1 1.04)" font-size="32.8">6</text>
<text transform="translate(1325 507) scale(1 1.04)" font-size="32.8">7</text>
<text transform="translate(33.8 257.8) rotate(-90) scale(1 1.04)" text-anchor="middle" font-size="31.5" letter-spacing="0.15">Nitrate-N, mg L<tspan font-size="20" dy="-16">-1</tspan></text>
<text transform="translate(1373 257.1) rotate(90) scale(1 1.04)" text-anchor="middle" font-size="31.5" letter-spacing="0.1">Depth to groundwater, m</text>
<text transform="translate(97.8 1026) scale(1 1.04)" text-anchor="end" font-size="32.8">0</text>
<text transform="translate(97.8 905.8) scale(1 1.04)" text-anchor="end" font-size="32.8">10</text>
<text transform="translate(97.8 785.6) scale(1 1.04)" text-anchor="end" font-size="32.8">20</text>
<text transform="translate(97.8 665.5) scale(1 1.04)" text-anchor="end" font-size="32.8">30</text>
<text transform="translate(97.8 545.3) scale(1 1.04)" text-anchor="end" font-size="32.8">40</text>
<text transform="translate(1325 545.3) scale(1 1.04)" font-size="32.8">0</text>
<text transform="translate(1325 614) scale(1 1.04)" font-size="32.8">1</text>
<text transform="translate(1325 682.6) scale(1 1.04)" font-size="32.8">2</text>
<text transform="translate(1325 751.3) scale(1 1.04)" font-size="32.8">3</text>
<text transform="translate(1325 820) scale(1 1.04)" font-size="32.8">4</text>
<text transform="translate(1325 888.7) scale(1 1.04)" font-size="32.8">5</text>
<text transform="translate(1325 957.3) scale(1 1.04)" font-size="32.8">6</text>
<text transform="translate(1325 1026) scale(1 1.04)" font-size="32.8">7</text>
<text transform="translate(33.8 776.6) rotate(-90) scale(1 1.04)" text-anchor="middle" font-size="31.5" letter-spacing="0.15">Nitrate-N, mg L<tspan font-size="20" dy="-16">-1</tspan></text>
<text transform="translate(1373 775.9) rotate(90) scale(1 1.04)" text-anchor="middle" font-size="31.5" letter-spacing="0.1">Depth to groundwater, m</text>
<text transform="translate(97.8 1544.5) scale(1 1.04)" text-anchor="end" font-size="32.8">0</text>
<text transform="translate(97.8 1424.4) scale(1 1.04)" text-anchor="end" font-size="32.8">10</text>
<text transform="translate(97.8 1304.3) scale(1 1.04)" text-anchor="end" font-size="32.8">20</text>
<text transform="translate(97.8 1184.3) scale(1 1.04)" text-anchor="end" font-size="32.8">30</text>
<text transform="translate(97.8 1064.2) scale(1 1.04)" text-anchor="end" font-size="32.8">40</text>
<text transform="translate(1325 1064.2) scale(1 1.04)" font-size="32.8">0</text>
<text transform="translate(1325 1132.8) scale(1 1.04)" font-size="32.8">1</text>
<text transform="translate(1325 1201.4) scale(1 1.04)" font-size="32.8">2</text>
<text transform="translate(1325 1270) scale(1 1.04)" font-size="32.8">3</text>
<text transform="translate(1325 1338.7) scale(1 1.04)" font-size="32.8">4</text>
<text transform="translate(1325 1407.3) scale(1 1.04)" font-size="32.8">5</text>
<text transform="translate(1325 1475.9) scale(1 1.04)" font-size="32.8">6</text>
<text transform="translate(1325 1544.5) scale(1 1.04)" font-size="32.8">7</text>
<text transform="translate(33.8 1295.3) rotate(-90) scale(1 1.04)" text-anchor="middle" font-size="31.5" letter-spacing="0.15">Nitrate-N, mg L<tspan font-size="20" dy="-16">-1</tspan></text>
<text transform="translate(1373 1294.6) rotate(90) scale(1 1.04)" text-anchor="middle" font-size="31.5" letter-spacing="0.1">Depth to groundwater, m</text>
<text transform="translate(112.6 1557) rotate(-40) skewX(-7)" text-anchor="end" font-size="22.8">500</text>
<text transform="translate(160.8 1557) rotate(-40) skewX(-7)" text-anchor="end" font-size="22.8">600</text>
<text transform="translate(208.9 1557) rotate(-40) skewX(-7)" text-anchor="end" font-size="22.8">700</text>
<text transform="translate(257.1 1557) rotate(-40) skewX(-7)" text-anchor="end" font-size="22.8">800</text>
<text transform="translate(305.2 1557) rotate(-40) skewX(-7)" text-anchor="end" font-size="22.8">900</text>
<text transform="translate(353.4 1557) rotate(-40) skewX(-7)" text-anchor="end" font-size="22.8">1000</text>
<text transform="translate(401.5 1557) rotate(-40) skewX(-7)" text-anchor="end" font-size="22.8">1100</text>
<text transform="translate(449.7 1557) rotate(-40) skewX(-7)" text-anchor="end" font-size="22.8">1200</text>
<text transform="translate(497.8 1557) rotate(-40) skewX(-7)" text-anchor="end" font-size="22.8">1300</text>
<text transform="translate(545.9 1557) rotate(-40) skewX(-7)" text-anchor="end" font-size="22.8">1400</text>
<text transform="translate(594.1 1557) rotate(-40) skewX(-7)" text-anchor="end" font-size="22.8">1500</text>
<text transform="translate(642.2 1557) rotate(-40) skewX(-7)" text-anchor="end" font-size="22.8">1600</text>
<text transform="translate(690.4 1557) rotate(-40) skewX(-7)" text-anchor="end" font-size="22.8">1700</text>
<text transform="translate(392.6 1630.7) scale(1 1.04)" text-anchor="middle" font-size="31.5">Day of Century</text>
<text transform="translate(748.6 1557) rotate(-40) skewX(-7)" text-anchor="end" font-size="22.8">500</text>
<text transform="translate(796.8 1557) rotate(-40) skewX(-7)" text-anchor="end" font-size="22.8">600</text>
<text transform="translate(844.9 1557) rotate(-40) skewX(-7)" text-anchor="end" font-size="22.8">700</text>
<text transform="translate(893.1 1557) rotate(-40) skewX(-7)" text-anchor="end" font-size="22.8">800</text>
<text transform="translate(941.2 1557) rotate(-40) skewX(-7)" text-anchor="end" font-size="22.8">900</text>
<text transform="translate(989.4 1557) rotate(-40) skewX(-7)" text-anchor="end" font-size="22.8">1000</text>
<text transform="translate(1037.5 1557) rotate(-40) skewX(-7)" text-anchor="end" font-size="22.8">1100</text>
<text transform="translate(1085.6 1557) rotate(-40) skewX(-7)" text-anchor="end" font-size="22.8">1200</text>
<text transform="translate(1133.8 1557) rotate(-40) skewX(-7)" text-anchor="end" font-size="22.8">1300</text>
<text transform="translate(1181.9 1557) rotate(-40) skewX(-7)" text-anchor="end" font-size="22.8">1400</text>
<text transform="translate(1230.1 1557) rotate(-40) skewX(-7)" text-anchor="end" font-size="22.8">1500</text>
<text transform="translate(1278.2 1557) rotate(-40) skewX(-7)" text-anchor="end" font-size="22.8">1600</text>
<text transform="translate(1326.4 1557) rotate(-40) skewX(-7)" text-anchor="end" font-size="22.8">1700</text>
<text transform="translate(1028.7 1630.7) scale(1 1.04)" text-anchor="middle" font-size="31.5">Day of Century</text>
<text transform="translate(460.5 65.2) scale(1 1.04)" font-size="38" letter-spacing="0.1">Soil surface</text>
<text transform="translate(451.5 257.3) scale(1 1.04)" font-size="38" letter-spacing="0.1">Grazed 1A</text>
<text transform="translate(528.8 372.2) scale(1 1.04)" font-size="38" letter-spacing="0.1">EPA limit</text>
<text transform="translate(1106 257.3) scale(1 1.04)" font-size="38" letter-spacing="0.1">Grazed 1B</text>
<text transform="translate(451.5 757.6) scale(1 1.04)" font-size="38" letter-spacing="0.1">Grazed 2A</text>
<text transform="translate(1106 758.1) scale(1 1.04)" font-size="38" letter-spacing="0.1">Grazed 2B</text>
<text transform="translate(451.5 1304.5) scale(1 1.04)" font-size="38" letter-spacing="0.1">Confined A</text>
<text transform="translate(1106 1304.5) scale(1 1.04)" font-size="38" letter-spacing="0.1">Confined B</text>
<text transform="translate(221.7 737.7) scale(1 1.04)" font-size="38" letter-spacing="0.1">Water table</text>
<text transform="translate(220 785.7) scale(1 1.04)" font-size="38" letter-spacing="0.1">Nitrate-N</text>
<path d="M192 739.1L200.6 715.4L216.9 726.6Z" fill="none" stroke="#888" stroke-width="1.2"/>
<ellipse cx="204.3" cy="773.1" rx="11.8" ry="12.8" fill="none" stroke="#000" stroke-width="1.7"/>
</svg></body></html>
